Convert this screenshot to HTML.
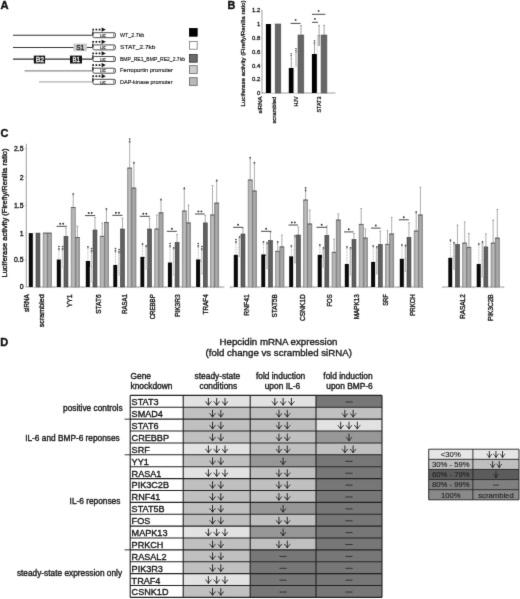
<!DOCTYPE html>
<html><head><meta charset="utf-8"><style>
html,body{margin:0;padding:0;background:#fff;}
body{width:520px;height:599px;overflow:hidden;}
svg{display:block;font-family:"Liberation Sans", sans-serif;}
</style></head><body>
<svg width="520" height="599" viewBox="0 0 520 599"><defs><filter id="soft" x="0" y="0" width="520" height="599" filterUnits="userSpaceOnUse" color-interpolation-filters="sRGB"><feConvolveMatrix order="3" kernelMatrix="0.00810 0.07380 0.00810 0.07380 0.67240 0.07380 0.00810 0.07380 0.00810" divisor="1" edgeMode="duplicate"/></filter></defs>
<rect width="520" height="599" fill="#fff"/>
<g filter="url(#soft)">
<text x="0.6" y="9.2" font-size="11.2" text-anchor="start" font-weight="bold" fill="#111" stroke="#111" stroke-width="0.38">A</text>
<line x1="13" y1="35.3" x2="92.6" y2="35.3" stroke="#333" stroke-width="1.1"/>
<rect x="92.9" y="32.699999999999996" width="22.5" height="5.0" rx="1.5" fill="#fff" stroke="#3a3a3a" stroke-width="0.9"/>
<ellipse cx="114.4" cy="35.199999999999996" rx="0.9" ry="1.9" fill="#fff" stroke="#3a3a3a" stroke-width="0.6"/>
<rect x="92.2" y="31.299999999999997" width="1.3" height="3.6" fill="#222"/>
<text x="103.1" y="36.9" font-size="4.2" text-anchor="middle" font-weight="normal" fill="#222" stroke="#222" stroke-width="0.25" textLength="5.6" lengthAdjust="spacingAndGlyphs">LUC</text>
<rect x="92.3" y="28.749999999999996" width="1.7" height="1.7" fill="#111"/>
<rect x="95.5" y="28.749999999999996" width="1.7" height="1.7" fill="#111"/>
<rect x="98.7" y="28.749999999999996" width="1.7" height="1.7" fill="#111"/>
<path d="M101.6 27.499999999999996 L105.8 29.599999999999998 L101.6 31.7 Z" fill="#111"/>
<text x="120" y="36.9" font-size="6.1" text-anchor="start" font-weight="normal" fill="#1a1a1a" stroke="#1a1a1a" stroke-width="0.16" textLength="24.3" lengthAdjust="spacingAndGlyphs">WT_2.7kb</text>
<line x1="13" y1="47.5" x2="92.6" y2="47.5" stroke="#333" stroke-width="1.1"/>
<rect x="92.9" y="44.9" width="22.5" height="5.0" rx="1.5" fill="#fff" stroke="#3a3a3a" stroke-width="0.9"/>
<ellipse cx="114.4" cy="47.4" rx="0.9" ry="1.9" fill="#fff" stroke="#3a3a3a" stroke-width="0.6"/>
<rect x="92.2" y="43.5" width="1.3" height="3.6" fill="#222"/>
<text x="103.1" y="49.1" font-size="4.2" text-anchor="middle" font-weight="normal" fill="#222" stroke="#222" stroke-width="0.25" textLength="5.6" lengthAdjust="spacingAndGlyphs">LUC</text>
<rect x="92.3" y="40.949999999999996" width="1.7" height="1.7" fill="#111"/>
<rect x="95.5" y="40.949999999999996" width="1.7" height="1.7" fill="#111"/>
<rect x="98.7" y="40.949999999999996" width="1.7" height="1.7" fill="#111"/>
<path d="M101.6 39.699999999999996 L105.8 41.8 L101.6 43.9 Z" fill="#111"/>
<text x="120" y="49.1" font-size="6.1" text-anchor="start" font-weight="normal" fill="#1a1a1a" stroke="#1a1a1a" stroke-width="0.16" textLength="35.5" lengthAdjust="spacingAndGlyphs">STAT_2.7kb</text>
<line x1="13" y1="59.1" x2="92.6" y2="59.1" stroke="#333" stroke-width="1.1"/>
<rect x="92.9" y="56.5" width="22.5" height="5.0" rx="1.5" fill="#fff" stroke="#3a3a3a" stroke-width="0.9"/>
<ellipse cx="114.4" cy="59.0" rx="0.9" ry="1.9" fill="#fff" stroke="#3a3a3a" stroke-width="0.6"/>
<rect x="92.2" y="55.1" width="1.3" height="3.6" fill="#222"/>
<text x="103.1" y="60.7" font-size="4.2" text-anchor="middle" font-weight="normal" fill="#222" stroke="#222" stroke-width="0.25" textLength="5.6" lengthAdjust="spacingAndGlyphs">LUC</text>
<rect x="92.3" y="52.55" width="1.7" height="1.7" fill="#111"/>
<rect x="95.5" y="52.55" width="1.7" height="1.7" fill="#111"/>
<rect x="98.7" y="52.55" width="1.7" height="1.7" fill="#111"/>
<path d="M101.6 51.3 L105.8 53.4 L101.6 55.5 Z" fill="#111"/>
<text x="120" y="60.7" font-size="6.1" text-anchor="start" font-weight="normal" fill="#1a1a1a" stroke="#1a1a1a" stroke-width="0.16" textLength="65" lengthAdjust="spacingAndGlyphs">BMP_RE1_BMP_RE2_2.7kb</text>
<line x1="24.6" y1="70.8" x2="92.6" y2="70.8" stroke="#8a8a8a" stroke-width="1.3"/>
<rect x="92.9" y="68.2" width="22.5" height="5.0" rx="1.5" fill="#fff" stroke="#3a3a3a" stroke-width="0.9"/>
<ellipse cx="114.4" cy="70.7" rx="0.9" ry="1.9" fill="#fff" stroke="#3a3a3a" stroke-width="0.6"/>
<rect x="92.2" y="66.8" width="1.3" height="3.6" fill="#222"/>
<text x="103.1" y="72.39999999999999" font-size="4.2" text-anchor="middle" font-weight="normal" fill="#222" stroke="#222" stroke-width="0.25" textLength="5.6" lengthAdjust="spacingAndGlyphs">LUC</text>
<rect x="92.3" y="64.25" width="1.7" height="1.7" fill="#111"/>
<rect x="95.5" y="64.25" width="1.7" height="1.7" fill="#111"/>
<rect x="98.7" y="64.25" width="1.7" height="1.7" fill="#111"/>
<path d="M101.6 62.99999999999999 L105.8 65.1 L101.6 67.19999999999999 Z" fill="#111"/>
<text x="120" y="72.39999999999999" font-size="6.1" text-anchor="start" font-weight="normal" fill="#1a1a1a" stroke="#1a1a1a" stroke-width="0.16" textLength="53" lengthAdjust="spacingAndGlyphs">Ferroportin promoter</text>
<line x1="39" y1="81.9" x2="92.6" y2="81.9" stroke="#b0b0b0" stroke-width="1.1"/>
<rect x="92.9" y="79.30000000000001" width="22.5" height="5.0" rx="1.5" fill="#fff" stroke="#3a3a3a" stroke-width="0.9"/>
<ellipse cx="114.4" cy="81.80000000000001" rx="0.9" ry="1.9" fill="#fff" stroke="#3a3a3a" stroke-width="0.6"/>
<rect x="92.2" y="77.9" width="1.3" height="3.6" fill="#222"/>
<text x="103.1" y="83.5" font-size="4.2" text-anchor="middle" font-weight="normal" fill="#222" stroke="#222" stroke-width="0.25" textLength="5.6" lengthAdjust="spacingAndGlyphs">LUC</text>
<rect x="92.3" y="75.35000000000001" width="1.7" height="1.7" fill="#111"/>
<rect x="95.5" y="75.35000000000001" width="1.7" height="1.7" fill="#111"/>
<rect x="98.7" y="75.35000000000001" width="1.7" height="1.7" fill="#111"/>
<path d="M101.6 74.10000000000001 L105.8 76.2 L101.6 78.3 Z" fill="#111"/>
<text x="120" y="83.5" font-size="6.1" text-anchor="start" font-weight="normal" fill="#1a1a1a" stroke="#1a1a1a" stroke-width="0.16" textLength="52.5" lengthAdjust="spacingAndGlyphs">DAP-kinase promoter</text>
<rect x="33.8" y="55.6" width="11.3" height="7.9" fill="#151515"/>
<text x="40.0" y="62.3" font-size="7.4" text-anchor="middle" font-weight="normal" fill="#eee" stroke="#eee" stroke-width="0.37" textLength="8.4" lengthAdjust="spacingAndGlyphs">B2</text>
<rect x="70" y="55.6" width="12" height="7.9" fill="#151515"/>
<text x="76.2" y="62.3" font-size="7.4" text-anchor="middle" font-weight="normal" fill="#eee" stroke="#eee" stroke-width="0.37" textLength="7.4" lengthAdjust="spacingAndGlyphs">B1</text>
<rect x="73.5" y="43.6" width="13.5" height="7.6" fill="#cbcbcb"/>
<text x="80.2" y="50.0" font-size="7.2" text-anchor="middle" font-weight="normal" fill="#222" stroke="#222" stroke-width="0.36" textLength="8" lengthAdjust="spacingAndGlyphs">S1</text>
<rect x="189.4" y="28.4" width="7.8" height="7.8" fill="#000" stroke="#000" stroke-width="0.8"/>
<rect x="189.4" y="41.4" width="7.8" height="7.8" fill="#fff" stroke="#777" stroke-width="0.8"/>
<rect x="189.4" y="54.4" width="7.8" height="7.8" fill="#6a6a6a" stroke="#333" stroke-width="0.8"/>
<rect x="189.4" y="65.7" width="7.8" height="7.8" fill="#cdcdcd" stroke="#666" stroke-width="0.8"/>
<rect x="189.4" y="77.7" width="7.8" height="7.8" fill="#b8b8b8" stroke="#666" stroke-width="0.8"/>
<text x="227.5" y="9.1" font-size="10.8" text-anchor="start" font-weight="bold" fill="#111" stroke="#111" stroke-width="0.38">B</text>
<line x1="262" y1="10.2" x2="262" y2="93.0" stroke="#888" stroke-width="0.8"/>
<line x1="262" y1="93.0" x2="335.6" y2="93.0" stroke="#888" stroke-width="0.8"/>
<text x="260.2" y="12.300000000000002" font-size="5.9" text-anchor="end" font-weight="normal" fill="#1a1a1a" stroke="#1a1a1a" stroke-width="0.30">1.2</text>
<line x1="261" y1="10.200000000000003" x2="262" y2="10.200000000000003" stroke="#888" stroke-width="0.6"/>
<text x="260.2" y="26.1" font-size="5.9" text-anchor="end" font-weight="normal" fill="#1a1a1a" stroke="#1a1a1a" stroke-width="0.30">1</text>
<line x1="261" y1="24.0" x2="262" y2="24.0" stroke="#888" stroke-width="0.6"/>
<text x="260.2" y="39.9" font-size="5.9" text-anchor="end" font-weight="normal" fill="#1a1a1a" stroke="#1a1a1a" stroke-width="0.30">0.8</text>
<line x1="261" y1="37.8" x2="262" y2="37.8" stroke="#888" stroke-width="0.6"/>
<text x="260.2" y="53.7" font-size="5.9" text-anchor="end" font-weight="normal" fill="#1a1a1a" stroke="#1a1a1a" stroke-width="0.30">0.6</text>
<line x1="261" y1="51.6" x2="262" y2="51.6" stroke="#888" stroke-width="0.6"/>
<text x="260.2" y="67.5" font-size="5.9" text-anchor="end" font-weight="normal" fill="#1a1a1a" stroke="#1a1a1a" stroke-width="0.30">0.4</text>
<line x1="261" y1="65.4" x2="262" y2="65.4" stroke="#888" stroke-width="0.6"/>
<text x="260.2" y="81.3" font-size="5.9" text-anchor="end" font-weight="normal" fill="#1a1a1a" stroke="#1a1a1a" stroke-width="0.30">0.2</text>
<line x1="261" y1="79.2" x2="262" y2="79.2" stroke="#888" stroke-width="0.6"/>
<text x="260.2" y="95.1" font-size="5.9" text-anchor="end" font-weight="normal" fill="#1a1a1a" stroke="#1a1a1a" stroke-width="0.30">0</text>
<line x1="261" y1="93.0" x2="262" y2="93.0" stroke="#888" stroke-width="0.6"/>
<text x="245.3" y="53.5" font-size="6.15" text-anchor="middle" font-weight="normal" fill="#1a1a1a" stroke="#1a1a1a" stroke-width="0.31" transform="rotate(-90 245.3 53.5)" textLength="106" lengthAdjust="spacingAndGlyphs">Luciferase activity (Firefly/Renilla ratio)</text>
<rect x="265.9" y="24.0" width="5.3" height="69.0" fill="#000"/>
<rect x="271.2" y="24.0" width="4.0" height="69.0" fill="#fff" stroke="#e0e0e0" stroke-width="0.6"/>
<rect x="275.2" y="24.0" width="5.6" height="69.0" fill="#666" stroke="#555" stroke-width="0.6"/>
<rect x="288.8" y="68.0" width="5.1" height="25.0" fill="#000"/>
<rect x="293.9" y="66.3" width="4.1" height="26.700000000000003" fill="#fff" stroke="#e0e0e0" stroke-width="0.6"/>
<rect x="298.0" y="35.0" width="5.8" height="58.0" fill="#666" stroke="#555" stroke-width="0.6"/>
<rect x="311.9" y="54.0" width="5.2" height="39.0" fill="#000"/>
<rect x="317.1" y="35.6" width="4.0" height="57.4" fill="#fff" stroke="#d0d0d0" stroke-width="0.6"/>
<rect x="321.1" y="35.0" width="5.8" height="58.0" fill="#666" stroke="#555" stroke-width="0.6"/>
<rect x="317.3" y="35.8" width="3.6" height="10" fill="#d0d0d0"/>
<line x1="301" y1="35.0" x2="301" y2="25.6" stroke="#666" stroke-width="0.6"/>
<line x1="300.1" y1="25.6" x2="301.9" y2="25.6" stroke="#666" stroke-width="0.6"/>
<line x1="319.1" y1="35.6" x2="319.1" y2="25.4" stroke="#666" stroke-width="0.6"/>
<line x1="318.20000000000005" y1="25.4" x2="320.0" y2="25.4" stroke="#666" stroke-width="0.6"/>
<line x1="324.1" y1="35.0" x2="324.1" y2="25.4" stroke="#666" stroke-width="0.6"/>
<line x1="323.20000000000005" y1="25.4" x2="325.0" y2="25.4" stroke="#666" stroke-width="0.6"/>
<line x1="291.3" y1="68" x2="291.3" y2="58" stroke="#666" stroke-width="0.6"/>
<line x1="290.40000000000003" y1="58" x2="292.2" y2="58" stroke="#666" stroke-width="0.6"/>
<line x1="296.0" y1="66.3" x2="296.0" y2="52" stroke="#666" stroke-width="0.6"/>
<line x1="295.1" y1="52" x2="296.9" y2="52" stroke="#666" stroke-width="0.6"/>
<line x1="314.5" y1="54" x2="314.5" y2="44" stroke="#666" stroke-width="0.6"/>
<line x1="313.6" y1="44" x2="315.4" y2="44" stroke="#666" stroke-width="0.6"/>
<line x1="319.1" y1="46" x2="319.1" y2="35.6" stroke="#666" stroke-width="0.6"/>
<line x1="318.20000000000005" y1="35.6" x2="320.0" y2="35.6" stroke="#666" stroke-width="0.6"/>
<line x1="290.6" y1="23.4" x2="300.6" y2="23.4" stroke="#333" stroke-width="0.9"/>
<text x="295.6" y="22.799999999999997" font-size="4.5" text-anchor="middle" font-weight="normal" fill="#333" stroke="#333" stroke-width="0.23">*</text>
<line x1="312" y1="22.3" x2="318" y2="22.3" stroke="#333" stroke-width="0.9"/>
<text x="315.0" y="21.7" font-size="4.5" text-anchor="middle" font-weight="normal" fill="#333" stroke="#333" stroke-width="0.23">*</text>
<line x1="312" y1="14.3" x2="325.4" y2="14.3" stroke="#333" stroke-width="0.9"/>
<text x="318.7" y="13.700000000000001" font-size="4.5" text-anchor="middle" font-weight="normal" fill="#333" stroke="#333" stroke-width="0.23">*</text>
<text x="291.3" y="58.0" font-size="3.8" text-anchor="middle" font-weight="normal" fill="#444" stroke="#444" stroke-width="0.19">*</text>
<text x="291.3" y="56.0" font-size="3.8" text-anchor="middle" font-weight="normal" fill="#444" stroke="#444" stroke-width="0.19">*</text>
<text x="296.0" y="52.5" font-size="3.8" text-anchor="middle" font-weight="normal" fill="#444" stroke="#444" stroke-width="0.19">*</text>
<text x="296.0" y="50.5" font-size="3.8" text-anchor="middle" font-weight="normal" fill="#444" stroke="#444" stroke-width="0.19">*</text>
<text x="314.5" y="44.5" font-size="3.8" text-anchor="middle" font-weight="normal" fill="#444" stroke="#444" stroke-width="0.19">*</text>
<text x="314.5" y="42.5" font-size="3.8" text-anchor="middle" font-weight="normal" fill="#444" stroke="#444" stroke-width="0.19">*</text>
<text x="262.5" y="96.6" font-size="6.0" text-anchor="end" font-weight="normal" fill="#1a1a1a" stroke="#1a1a1a" stroke-width="0.30" transform="rotate(-90 262.5 96.6)" textLength="16.8" lengthAdjust="spacingAndGlyphs">siRNA</text>
<text x="275.7" y="96.6" font-size="6.0" text-anchor="end" font-weight="normal" fill="#1a1a1a" stroke="#1a1a1a" stroke-width="0.30" transform="rotate(-90 275.7 96.6)" textLength="27" lengthAdjust="spacingAndGlyphs">scrambled</text>
<text x="298.0" y="96.6" font-size="6.0" text-anchor="end" font-weight="normal" fill="#1a1a1a" stroke="#1a1a1a" stroke-width="0.30" transform="rotate(-90 298.0 96.6)" textLength="9.8" lengthAdjust="spacingAndGlyphs">HJV</text>
<text x="321.4" y="96.6" font-size="6.0" text-anchor="end" font-weight="normal" fill="#1a1a1a" stroke="#1a1a1a" stroke-width="0.30" transform="rotate(-90 321.4 96.6)" textLength="16" lengthAdjust="spacingAndGlyphs">STAT3</text>
<text x="0.5" y="137.4" font-size="11.0" text-anchor="start" font-weight="bold" fill="#111" stroke="#111" stroke-width="0.38">C</text>
<line x1="26.3" y1="143.8" x2="26.3" y2="287.0" stroke="#888" stroke-width="0.8"/>
<text x="23.5" y="150.9" font-size="6.9" text-anchor="end" font-weight="normal" fill="#1a1a1a" stroke="#1a1a1a" stroke-width="0.35">2.5</text>
<line x1="25.3" y1="148.5" x2="26.3" y2="148.5" stroke="#888" stroke-width="0.6"/>
<text x="23.5" y="179.5" font-size="6.9" text-anchor="end" font-weight="normal" fill="#1a1a1a" stroke="#1a1a1a" stroke-width="0.35">2</text>
<line x1="25.3" y1="177.1" x2="26.3" y2="177.1" stroke="#888" stroke-width="0.6"/>
<text x="23.5" y="207.70000000000002" font-size="6.9" text-anchor="end" font-weight="normal" fill="#1a1a1a" stroke="#1a1a1a" stroke-width="0.35">1.5</text>
<line x1="25.3" y1="205.3" x2="26.3" y2="205.3" stroke="#888" stroke-width="0.6"/>
<text x="23.5" y="235.5" font-size="6.9" text-anchor="end" font-weight="normal" fill="#1a1a1a" stroke="#1a1a1a" stroke-width="0.35">1</text>
<line x1="25.3" y1="233.1" x2="26.3" y2="233.1" stroke="#888" stroke-width="0.6"/>
<text x="23.5" y="262.2" font-size="6.9" text-anchor="end" font-weight="normal" fill="#1a1a1a" stroke="#1a1a1a" stroke-width="0.35">0.5</text>
<line x1="25.3" y1="259.8" x2="26.3" y2="259.8" stroke="#888" stroke-width="0.6"/>
<text x="23.5" y="289.4" font-size="6.9" text-anchor="end" font-weight="normal" fill="#1a1a1a" stroke="#1a1a1a" stroke-width="0.35">0</text>
<line x1="25.3" y1="287.0" x2="26.3" y2="287.0" stroke="#888" stroke-width="0.6"/>
<text x="6.6" y="213.0" font-size="7.5" text-anchor="middle" font-weight="normal" fill="#1a1a1a" stroke="#1a1a1a" stroke-width="0.38" transform="rotate(-90 6.6 213.0)" textLength="129" lengthAdjust="spacingAndGlyphs">Luciferase activity (Firefly/Renilla ratio)</text>
<line x1="26.3" y1="287.0" x2="224.4" y2="287.0" stroke="#888" stroke-width="0.8"/>
<line x1="230.0" y1="287.0" x2="423.0" y2="287.0" stroke="#888" stroke-width="0.8"/>
<line x1="442.3" y1="287.0" x2="503.9" y2="287.0" stroke="#888" stroke-width="0.8"/>
<rect x="28.80" y="233.1" width="4.30" height="53.90" fill="#0a0a0a"/>
<rect x="33.10" y="233.1" width="2.90" height="53.90" fill="#ffffff" stroke="#e2e2e2" stroke-width="0.6"/>
<rect x="36.00" y="233.1" width="3.95" height="53.90" fill="#606060" stroke="#3e3e3e" stroke-width="0.6"/>
<rect x="43.10" y="233.1" width="4.20" height="53.90" fill="#aeaeae" stroke="#7a7a7a" stroke-width="0.6"/>
<line x1="45.20" y1="234.1" x2="45.20" y2="287.0" stroke="#c2c2c2" stroke-width="0.9"/>
<line x1="43.10" y1="233.1" x2="47.30" y2="233.1" stroke="#555" stroke-width="0.8"/>
<rect x="47.30" y="233.1" width="4.20" height="53.90" fill="#9e9e9e" stroke="#6e6e6e" stroke-width="0.6"/>
<line x1="49.40" y1="234.1" x2="49.40" y2="287.0" stroke="#b0b0b0" stroke-width="0.9"/>
<line x1="47.30" y1="233.1" x2="51.50" y2="233.1" stroke="#555" stroke-width="0.8"/>
<rect x="56.80" y="259.5" width="4.30" height="27.50" fill="#0a0a0a"/>
<rect x="61.10" y="258.5" width="2.90" height="28.50" fill="#ffffff" stroke="#e2e2e2" stroke-width="0.6"/>
<rect x="64.00" y="236.3" width="3.95" height="50.70" fill="#606060" stroke="#3e3e3e" stroke-width="0.6"/>
<rect x="71.10" y="207.5" width="4.20" height="79.50" fill="#aeaeae" stroke="#7a7a7a" stroke-width="0.6"/>
<line x1="73.20" y1="208.5" x2="73.20" y2="287.0" stroke="#c2c2c2" stroke-width="0.9"/>
<line x1="71.10" y1="207.5" x2="75.30" y2="207.5" stroke="#555" stroke-width="0.8"/>
<rect x="75.30" y="237.5" width="4.20" height="49.50" fill="#9e9e9e" stroke="#6e6e6e" stroke-width="0.6"/>
<line x1="77.40" y1="238.5" x2="77.40" y2="287.0" stroke="#b0b0b0" stroke-width="0.9"/>
<line x1="75.30" y1="237.5" x2="79.50" y2="237.5" stroke="#555" stroke-width="0.8"/>
<line x1="58.95" y1="259.5" x2="58.95" y2="250" stroke="#8a8a8a" stroke-width="0.55" stroke-dasharray="1 0.6"/>
<line x1="58.05" y1="250" x2="59.85" y2="250" stroke="#6a6a6a" stroke-width="0.55"/>
<circle cx="58.95" cy="248.80" r="0.85" fill="#444"/>
<circle cx="58.95" cy="246.50" r="0.85" fill="#444"/>
<rect x="61.50" y="250.00" width="2.10" height="17.00" fill="#ececec"/>
<line x1="62.55" y1="258.5" x2="62.55" y2="250" stroke="#8a8a8a" stroke-width="0.55" stroke-dasharray="1 0.6"/>
<line x1="61.65" y1="250" x2="63.45" y2="250" stroke="#6a6a6a" stroke-width="0.55"/>
<line x1="62.55" y1="258.5" x2="62.55" y2="267.00" stroke="#999" stroke-width="0.55" stroke-dasharray="1 0.6"/>
<line x1="61.65" y1="267.00" x2="63.45" y2="267.00" stroke="#999" stroke-width="0.5"/>
<circle cx="62.55" cy="248.80" r="0.85" fill="#444"/>
<circle cx="62.55" cy="246.50" r="0.85" fill="#444"/>
<line x1="65.97" y1="236.3" x2="65.97" y2="228" stroke="#6a6a6a" stroke-width="0.55"/>
<line x1="65.07" y1="228" x2="66.88" y2="228" stroke="#6a6a6a" stroke-width="0.55"/>
<line x1="73.20" y1="207.5" x2="73.20" y2="195" stroke="#6a6a6a" stroke-width="0.55"/>
<line x1="72.30" y1="195" x2="74.10" y2="195" stroke="#6a6a6a" stroke-width="0.55"/>
<circle cx="73.20" cy="193.80" r="0.85" fill="#444"/>
<line x1="77.40" y1="237.5" x2="77.40" y2="226" stroke="#6a6a6a" stroke-width="0.55"/>
<line x1="76.50" y1="226" x2="78.30" y2="226" stroke="#6a6a6a" stroke-width="0.55"/>
<line x1="56.5" y1="226.3" x2="66.9" y2="226.3" stroke="#333" stroke-width="0.9"/>
<circle cx="60.20" cy="223.70" r="0.95" fill="#333"/>
<circle cx="63.20" cy="223.70" r="0.95" fill="#333"/>
<rect x="85.80" y="261" width="4.30" height="26.00" fill="#0a0a0a"/>
<rect x="90.10" y="267" width="2.90" height="20.00" fill="#ffffff" stroke="#e2e2e2" stroke-width="0.6"/>
<rect x="93.00" y="230" width="3.95" height="57.00" fill="#606060" stroke="#3e3e3e" stroke-width="0.6"/>
<rect x="100.10" y="236.3" width="4.20" height="50.70" fill="#aeaeae" stroke="#7a7a7a" stroke-width="0.6"/>
<line x1="102.20" y1="237.3" x2="102.20" y2="287.0" stroke="#c2c2c2" stroke-width="0.9"/>
<line x1="100.10" y1="236.3" x2="104.30" y2="236.3" stroke="#555" stroke-width="0.8"/>
<rect x="104.30" y="222.5" width="4.20" height="64.50" fill="#9e9e9e" stroke="#6e6e6e" stroke-width="0.6"/>
<line x1="106.40" y1="223.5" x2="106.40" y2="287.0" stroke="#b0b0b0" stroke-width="0.9"/>
<line x1="104.30" y1="222.5" x2="108.50" y2="222.5" stroke="#555" stroke-width="0.8"/>
<line x1="87.95" y1="261" x2="87.95" y2="248" stroke="#8a8a8a" stroke-width="0.55" stroke-dasharray="1 0.6"/>
<line x1="87.05" y1="248" x2="88.85" y2="248" stroke="#6a6a6a" stroke-width="0.55"/>
<circle cx="87.95" cy="246.80" r="0.85" fill="#444"/>
<rect x="90.50" y="252.00" width="2.10" height="30.00" fill="#ececec"/>
<line x1="91.55" y1="267" x2="91.55" y2="252" stroke="#8a8a8a" stroke-width="0.55" stroke-dasharray="1 0.6"/>
<line x1="90.65" y1="252" x2="92.45" y2="252" stroke="#6a6a6a" stroke-width="0.55"/>
<line x1="91.55" y1="267" x2="91.55" y2="282.00" stroke="#999" stroke-width="0.55" stroke-dasharray="1 0.6"/>
<line x1="90.65" y1="282.00" x2="92.45" y2="282.00" stroke="#999" stroke-width="0.5"/>
<circle cx="91.55" cy="250.80" r="0.85" fill="#444"/>
<circle cx="91.55" cy="248.50" r="0.85" fill="#444"/>
<line x1="94.97" y1="230" x2="94.97" y2="217.5" stroke="#6a6a6a" stroke-width="0.55"/>
<line x1="94.07" y1="217.5" x2="95.88" y2="217.5" stroke="#6a6a6a" stroke-width="0.55"/>
<line x1="102.20" y1="236.3" x2="102.20" y2="223" stroke="#6a6a6a" stroke-width="0.55"/>
<line x1="101.30" y1="223" x2="103.10" y2="223" stroke="#6a6a6a" stroke-width="0.55"/>
<line x1="106.40" y1="222.5" x2="106.40" y2="210" stroke="#6a6a6a" stroke-width="0.55"/>
<line x1="105.50" y1="210" x2="107.30" y2="210" stroke="#6a6a6a" stroke-width="0.55"/>
<circle cx="106.40" cy="208.80" r="0.85" fill="#444"/>
<line x1="85" y1="215.6" x2="95.3" y2="215.6" stroke="#333" stroke-width="0.9"/>
<circle cx="88.65" cy="213.00" r="0.95" fill="#333"/>
<circle cx="91.65" cy="213.00" r="0.95" fill="#333"/>
<rect x="113.30" y="265" width="4.30" height="22.00" fill="#0a0a0a"/>
<rect x="117.60" y="264" width="2.90" height="23.00" fill="#ffffff" stroke="#e2e2e2" stroke-width="0.6"/>
<rect x="120.50" y="229" width="3.95" height="58.00" fill="#606060" stroke="#3e3e3e" stroke-width="0.6"/>
<rect x="127.60" y="168.1" width="4.20" height="118.90" fill="#aeaeae" stroke="#7a7a7a" stroke-width="0.6"/>
<line x1="129.70" y1="169.1" x2="129.70" y2="287.0" stroke="#c2c2c2" stroke-width="0.9"/>
<line x1="127.60" y1="168.1" x2="131.80" y2="168.1" stroke="#555" stroke-width="0.8"/>
<rect x="131.80" y="188.1" width="4.20" height="98.90" fill="#9e9e9e" stroke="#6e6e6e" stroke-width="0.6"/>
<line x1="133.90" y1="189.1" x2="133.90" y2="287.0" stroke="#b0b0b0" stroke-width="0.9"/>
<line x1="131.80" y1="188.1" x2="136.00" y2="188.1" stroke="#555" stroke-width="0.8"/>
<line x1="115.45" y1="265" x2="115.45" y2="252" stroke="#8a8a8a" stroke-width="0.55" stroke-dasharray="1 0.6"/>
<line x1="114.55" y1="252" x2="116.35" y2="252" stroke="#6a6a6a" stroke-width="0.55"/>
<circle cx="115.45" cy="250.80" r="0.85" fill="#444"/>
<circle cx="115.45" cy="248.50" r="0.85" fill="#444"/>
<rect x="118.00" y="253.00" width="2.10" height="22.00" fill="#ececec"/>
<line x1="119.05" y1="264" x2="119.05" y2="253" stroke="#8a8a8a" stroke-width="0.55" stroke-dasharray="1 0.6"/>
<line x1="118.15" y1="253" x2="119.95" y2="253" stroke="#6a6a6a" stroke-width="0.55"/>
<line x1="119.05" y1="264" x2="119.05" y2="275.00" stroke="#999" stroke-width="0.55" stroke-dasharray="1 0.6"/>
<line x1="118.15" y1="275.00" x2="119.95" y2="275.00" stroke="#999" stroke-width="0.5"/>
<circle cx="119.05" cy="251.80" r="0.85" fill="#444"/>
<circle cx="119.05" cy="249.50" r="0.85" fill="#444"/>
<line x1="122.47" y1="229" x2="122.47" y2="218" stroke="#6a6a6a" stroke-width="0.55"/>
<line x1="121.57" y1="218" x2="123.38" y2="218" stroke="#6a6a6a" stroke-width="0.55"/>
<line x1="129.70" y1="168.1" x2="129.70" y2="142.5" stroke="#6a6a6a" stroke-width="0.55"/>
<line x1="128.80" y1="142.5" x2="130.60" y2="142.5" stroke="#6a6a6a" stroke-width="0.55"/>
<circle cx="129.70" cy="141.30" r="0.85" fill="#444"/>
<circle cx="129.70" cy="139.00" r="0.85" fill="#444"/>
<line x1="133.90" y1="188.1" x2="133.90" y2="163.8" stroke="#6a6a6a" stroke-width="0.55"/>
<line x1="133.00" y1="163.8" x2="134.80" y2="163.8" stroke="#6a6a6a" stroke-width="0.55"/>
<circle cx="133.90" cy="162.60" r="0.85" fill="#444"/>
<line x1="112.3" y1="215.3" x2="122.5" y2="215.3" stroke="#333" stroke-width="0.9"/>
<circle cx="115.90" cy="212.70" r="0.95" fill="#333"/>
<circle cx="118.90" cy="212.70" r="0.95" fill="#333"/>
<rect x="140.40" y="256.9" width="4.30" height="30.10" fill="#0a0a0a"/>
<rect x="144.70" y="258" width="2.90" height="29.00" fill="#ffffff" stroke="#e2e2e2" stroke-width="0.6"/>
<rect x="147.60" y="229" width="3.95" height="58.00" fill="#606060" stroke="#3e3e3e" stroke-width="0.6"/>
<rect x="154.70" y="229" width="4.20" height="58.00" fill="#aeaeae" stroke="#7a7a7a" stroke-width="0.6"/>
<line x1="156.80" y1="230" x2="156.80" y2="287.0" stroke="#c2c2c2" stroke-width="0.9"/>
<line x1="154.70" y1="229" x2="158.90" y2="229" stroke="#555" stroke-width="0.8"/>
<rect x="158.90" y="212.8" width="4.20" height="74.20" fill="#9e9e9e" stroke="#6e6e6e" stroke-width="0.6"/>
<line x1="161.00" y1="213.8" x2="161.00" y2="287.0" stroke="#b0b0b0" stroke-width="0.9"/>
<line x1="158.90" y1="212.8" x2="163.10" y2="212.8" stroke="#555" stroke-width="0.8"/>
<line x1="142.55" y1="256.9" x2="142.55" y2="245" stroke="#8a8a8a" stroke-width="0.55" stroke-dasharray="1 0.6"/>
<line x1="141.65" y1="245" x2="143.45" y2="245" stroke="#6a6a6a" stroke-width="0.55"/>
<circle cx="142.55" cy="243.80" r="0.85" fill="#444"/>
<rect x="145.10" y="247.00" width="2.10" height="22.00" fill="#ececec"/>
<line x1="146.15" y1="258" x2="146.15" y2="247" stroke="#8a8a8a" stroke-width="0.55" stroke-dasharray="1 0.6"/>
<line x1="145.25" y1="247" x2="147.05" y2="247" stroke="#6a6a6a" stroke-width="0.55"/>
<line x1="146.15" y1="258" x2="146.15" y2="269.00" stroke="#999" stroke-width="0.55" stroke-dasharray="1 0.6"/>
<line x1="145.25" y1="269.00" x2="147.05" y2="269.00" stroke="#999" stroke-width="0.5"/>
<circle cx="146.15" cy="245.80" r="0.85" fill="#444"/>
<line x1="149.57" y1="229" x2="149.57" y2="218" stroke="#6a6a6a" stroke-width="0.55"/>
<line x1="148.67" y1="218" x2="150.47" y2="218" stroke="#6a6a6a" stroke-width="0.55"/>
<line x1="156.80" y1="229" x2="156.80" y2="215" stroke="#6a6a6a" stroke-width="0.55"/>
<line x1="155.90" y1="215" x2="157.70" y2="215" stroke="#6a6a6a" stroke-width="0.55"/>
<line x1="161.00" y1="212.8" x2="161.00" y2="200.5" stroke="#6a6a6a" stroke-width="0.55"/>
<line x1="160.10" y1="200.5" x2="161.90" y2="200.5" stroke="#6a6a6a" stroke-width="0.55"/>
<circle cx="161.00" cy="199.30" r="0.85" fill="#444"/>
<line x1="139.8" y1="216.3" x2="149.8" y2="216.3" stroke="#333" stroke-width="0.9"/>
<circle cx="143.30" cy="213.70" r="0.95" fill="#333"/>
<circle cx="146.30" cy="213.70" r="0.95" fill="#333"/>
<rect x="167.90" y="262.5" width="4.30" height="24.50" fill="#0a0a0a"/>
<rect x="172.20" y="262" width="2.90" height="25.00" fill="#ffffff" stroke="#e2e2e2" stroke-width="0.6"/>
<rect x="175.10" y="242.3" width="3.95" height="44.70" fill="#606060" stroke="#3e3e3e" stroke-width="0.6"/>
<rect x="182.20" y="211" width="4.20" height="76.00" fill="#aeaeae" stroke="#7a7a7a" stroke-width="0.6"/>
<line x1="184.30" y1="212" x2="184.30" y2="287.0" stroke="#c2c2c2" stroke-width="0.9"/>
<line x1="182.20" y1="211" x2="186.40" y2="211" stroke="#555" stroke-width="0.8"/>
<rect x="186.40" y="222.9" width="4.20" height="64.10" fill="#9e9e9e" stroke="#6e6e6e" stroke-width="0.6"/>
<line x1="188.50" y1="223.9" x2="188.50" y2="287.0" stroke="#b0b0b0" stroke-width="0.9"/>
<line x1="186.40" y1="222.9" x2="190.60" y2="222.9" stroke="#555" stroke-width="0.8"/>
<line x1="170.05" y1="262.5" x2="170.05" y2="247" stroke="#8a8a8a" stroke-width="0.55" stroke-dasharray="1 0.6"/>
<line x1="169.15" y1="247" x2="170.95" y2="247" stroke="#6a6a6a" stroke-width="0.55"/>
<circle cx="170.05" cy="245.80" r="0.85" fill="#444"/>
<circle cx="170.05" cy="243.50" r="0.85" fill="#444"/>
<rect x="172.60" y="249.00" width="2.10" height="26.00" fill="#ececec"/>
<line x1="173.65" y1="262" x2="173.65" y2="249" stroke="#8a8a8a" stroke-width="0.55" stroke-dasharray="1 0.6"/>
<line x1="172.75" y1="249" x2="174.55" y2="249" stroke="#6a6a6a" stroke-width="0.55"/>
<line x1="173.65" y1="262" x2="173.65" y2="275.00" stroke="#999" stroke-width="0.55" stroke-dasharray="1 0.6"/>
<line x1="172.75" y1="275.00" x2="174.55" y2="275.00" stroke="#999" stroke-width="0.5"/>
<circle cx="173.65" cy="247.80" r="0.85" fill="#444"/>
<line x1="177.07" y1="242.3" x2="177.07" y2="234.5" stroke="#6a6a6a" stroke-width="0.55"/>
<line x1="176.17" y1="234.5" x2="177.97" y2="234.5" stroke="#6a6a6a" stroke-width="0.55"/>
<line x1="184.30" y1="211" x2="184.30" y2="189.4" stroke="#6a6a6a" stroke-width="0.55"/>
<line x1="183.40" y1="189.4" x2="185.20" y2="189.4" stroke="#6a6a6a" stroke-width="0.55"/>
<circle cx="184.30" cy="188.20" r="0.85" fill="#444"/>
<line x1="188.50" y1="222.9" x2="188.50" y2="205" stroke="#6a6a6a" stroke-width="0.55"/>
<line x1="187.60" y1="205" x2="189.40" y2="205" stroke="#6a6a6a" stroke-width="0.55"/>
<line x1="166.9" y1="231.3" x2="176.9" y2="231.3" stroke="#333" stroke-width="0.9"/>
<circle cx="171.90" cy="228.70" r="0.95" fill="#333"/>
<rect x="196.10" y="259.4" width="4.30" height="27.60" fill="#0a0a0a"/>
<rect x="200.40" y="262" width="2.90" height="25.00" fill="#ffffff" stroke="#e2e2e2" stroke-width="0.6"/>
<rect x="203.30" y="222.9" width="3.95" height="64.10" fill="#606060" stroke="#3e3e3e" stroke-width="0.6"/>
<rect x="210.40" y="215" width="4.20" height="72.00" fill="#aeaeae" stroke="#7a7a7a" stroke-width="0.6"/>
<line x1="212.50" y1="216" x2="212.50" y2="287.0" stroke="#c2c2c2" stroke-width="0.9"/>
<line x1="210.40" y1="215" x2="214.60" y2="215" stroke="#555" stroke-width="0.8"/>
<rect x="214.60" y="203.1" width="4.20" height="83.90" fill="#9e9e9e" stroke="#6e6e6e" stroke-width="0.6"/>
<line x1="216.70" y1="204.1" x2="216.70" y2="287.0" stroke="#b0b0b0" stroke-width="0.9"/>
<line x1="214.60" y1="203.1" x2="218.80" y2="203.1" stroke="#555" stroke-width="0.8"/>
<line x1="198.25" y1="259.4" x2="198.25" y2="247" stroke="#8a8a8a" stroke-width="0.55" stroke-dasharray="1 0.6"/>
<line x1="197.35" y1="247" x2="199.15" y2="247" stroke="#6a6a6a" stroke-width="0.55"/>
<circle cx="198.25" cy="245.80" r="0.85" fill="#444"/>
<circle cx="198.25" cy="243.50" r="0.85" fill="#444"/>
<rect x="200.80" y="250.00" width="2.10" height="24.00" fill="#ececec"/>
<line x1="201.85" y1="262" x2="201.85" y2="250" stroke="#8a8a8a" stroke-width="0.55" stroke-dasharray="1 0.6"/>
<line x1="200.95" y1="250" x2="202.75" y2="250" stroke="#6a6a6a" stroke-width="0.55"/>
<line x1="201.85" y1="262" x2="201.85" y2="274.00" stroke="#999" stroke-width="0.55" stroke-dasharray="1 0.6"/>
<line x1="200.95" y1="274.00" x2="202.75" y2="274.00" stroke="#999" stroke-width="0.5"/>
<circle cx="201.85" cy="248.80" r="0.85" fill="#444"/>
<circle cx="201.85" cy="246.50" r="0.85" fill="#444"/>
<line x1="205.28" y1="222.9" x2="205.28" y2="215.5" stroke="#6a6a6a" stroke-width="0.55"/>
<line x1="204.38" y1="215.5" x2="206.18" y2="215.5" stroke="#6a6a6a" stroke-width="0.55"/>
<line x1="212.50" y1="215" x2="212.50" y2="185.5" stroke="#6a6a6a" stroke-width="0.55"/>
<line x1="211.60" y1="185.5" x2="213.40" y2="185.5" stroke="#6a6a6a" stroke-width="0.55"/>
<line x1="216.70" y1="203.1" x2="216.70" y2="181.5" stroke="#6a6a6a" stroke-width="0.55"/>
<line x1="215.80" y1="181.5" x2="217.60" y2="181.5" stroke="#6a6a6a" stroke-width="0.55"/>
<circle cx="216.70" cy="180.30" r="0.85" fill="#444"/>
<line x1="195" y1="214" x2="204.8" y2="214" stroke="#333" stroke-width="0.9"/>
<circle cx="198.40" cy="211.40" r="0.95" fill="#333"/>
<circle cx="201.40" cy="211.40" r="0.95" fill="#333"/>
<rect x="233.80" y="254.8" width="4.30" height="32.20" fill="#0a0a0a"/>
<rect x="238.10" y="247.3" width="2.90" height="39.70" fill="#ffffff" stroke="#e2e2e2" stroke-width="0.6"/>
<rect x="241.00" y="234" width="3.95" height="53.00" fill="#606060" stroke="#3e3e3e" stroke-width="0.6"/>
<rect x="248.10" y="180" width="4.20" height="107.00" fill="#aeaeae" stroke="#7a7a7a" stroke-width="0.6"/>
<line x1="250.20" y1="181" x2="250.20" y2="287.0" stroke="#c2c2c2" stroke-width="0.9"/>
<line x1="248.10" y1="180" x2="252.30" y2="180" stroke="#555" stroke-width="0.8"/>
<rect x="252.30" y="191" width="4.20" height="96.00" fill="#9e9e9e" stroke="#6e6e6e" stroke-width="0.6"/>
<line x1="254.40" y1="192" x2="254.40" y2="287.0" stroke="#b0b0b0" stroke-width="0.9"/>
<line x1="252.30" y1="191" x2="256.50" y2="191" stroke="#555" stroke-width="0.8"/>
<line x1="235.95" y1="254.8" x2="235.95" y2="243" stroke="#8a8a8a" stroke-width="0.55" stroke-dasharray="1 0.6"/>
<line x1="235.05" y1="243" x2="236.85" y2="243" stroke="#6a6a6a" stroke-width="0.55"/>
<circle cx="235.95" cy="241.80" r="0.85" fill="#444"/>
<circle cx="235.95" cy="239.50" r="0.85" fill="#444"/>
<rect x="238.50" y="238.00" width="2.10" height="18.60" fill="#d6d6d6"/>
<line x1="239.55" y1="247.3" x2="239.55" y2="238" stroke="#8a8a8a" stroke-width="0.55" stroke-dasharray="1 0.6"/>
<line x1="238.65" y1="238" x2="240.45" y2="238" stroke="#6a6a6a" stroke-width="0.55"/>
<line x1="239.55" y1="247.3" x2="239.55" y2="256.60" stroke="#999" stroke-width="0.55" stroke-dasharray="1 0.6"/>
<line x1="238.65" y1="256.60" x2="240.45" y2="256.60" stroke="#999" stroke-width="0.5"/>
<circle cx="239.55" cy="236.80" r="0.85" fill="#444"/>
<line x1="242.97" y1="234" x2="242.97" y2="228" stroke="#6a6a6a" stroke-width="0.55"/>
<line x1="242.07" y1="228" x2="243.88" y2="228" stroke="#6a6a6a" stroke-width="0.55"/>
<line x1="250.20" y1="180" x2="250.20" y2="158.8" stroke="#6a6a6a" stroke-width="0.55"/>
<line x1="249.30" y1="158.8" x2="251.10" y2="158.8" stroke="#6a6a6a" stroke-width="0.55"/>
<circle cx="250.20" cy="157.60" r="0.85" fill="#444"/>
<line x1="254.40" y1="191" x2="254.40" y2="163.8" stroke="#6a6a6a" stroke-width="0.55"/>
<line x1="253.50" y1="163.8" x2="255.30" y2="163.8" stroke="#6a6a6a" stroke-width="0.55"/>
<circle cx="254.40" cy="162.60" r="0.85" fill="#444"/>
<line x1="233.1" y1="227.3" x2="243.1" y2="227.3" stroke="#333" stroke-width="0.9"/>
<circle cx="238.10" cy="224.70" r="0.95" fill="#333"/>
<rect x="261.30" y="254.4" width="4.30" height="32.60" fill="#0a0a0a"/>
<rect x="265.60" y="256.3" width="2.90" height="30.70" fill="#ffffff" stroke="#e2e2e2" stroke-width="0.6"/>
<rect x="268.50" y="240.5" width="3.95" height="46.50" fill="#606060" stroke="#3e3e3e" stroke-width="0.6"/>
<rect x="275.60" y="251.3" width="4.20" height="35.70" fill="#aeaeae" stroke="#7a7a7a" stroke-width="0.6"/>
<line x1="277.70" y1="252.3" x2="277.70" y2="287.0" stroke="#c2c2c2" stroke-width="0.9"/>
<line x1="275.60" y1="251.3" x2="279.80" y2="251.3" stroke="#555" stroke-width="0.8"/>
<rect x="279.80" y="246.9" width="4.20" height="40.10" fill="#9e9e9e" stroke="#6e6e6e" stroke-width="0.6"/>
<line x1="281.90" y1="247.9" x2="281.90" y2="287.0" stroke="#b0b0b0" stroke-width="0.9"/>
<line x1="279.80" y1="246.9" x2="284.00" y2="246.9" stroke="#555" stroke-width="0.8"/>
<line x1="263.45" y1="254.4" x2="263.45" y2="243" stroke="#8a8a8a" stroke-width="0.55" stroke-dasharray="1 0.6"/>
<line x1="262.55" y1="243" x2="264.35" y2="243" stroke="#6a6a6a" stroke-width="0.55"/>
<circle cx="263.45" cy="241.80" r="0.85" fill="#444"/>
<rect x="266.00" y="244.00" width="2.10" height="24.60" fill="#d6d6d6"/>
<line x1="267.05" y1="256.3" x2="267.05" y2="244" stroke="#8a8a8a" stroke-width="0.55" stroke-dasharray="1 0.6"/>
<line x1="266.15" y1="244" x2="267.95" y2="244" stroke="#6a6a6a" stroke-width="0.55"/>
<line x1="267.05" y1="256.3" x2="267.05" y2="268.60" stroke="#999" stroke-width="0.55" stroke-dasharray="1 0.6"/>
<line x1="266.15" y1="268.60" x2="267.95" y2="268.60" stroke="#999" stroke-width="0.5"/>
<circle cx="267.05" cy="242.80" r="0.85" fill="#444"/>
<line x1="270.48" y1="240.5" x2="270.48" y2="232" stroke="#6a6a6a" stroke-width="0.55"/>
<line x1="269.58" y1="232" x2="271.38" y2="232" stroke="#6a6a6a" stroke-width="0.55"/>
<line x1="277.70" y1="251.3" x2="277.70" y2="243" stroke="#6a6a6a" stroke-width="0.55"/>
<line x1="276.80" y1="243" x2="278.60" y2="243" stroke="#6a6a6a" stroke-width="0.55"/>
<circle cx="277.70" cy="241.80" r="0.85" fill="#444"/>
<line x1="281.90" y1="246.9" x2="281.90" y2="235" stroke="#6a6a6a" stroke-width="0.55"/>
<line x1="281.00" y1="235" x2="282.80" y2="235" stroke="#6a6a6a" stroke-width="0.55"/>
<line x1="261" y1="231.3" x2="271.3" y2="231.3" stroke="#333" stroke-width="0.9"/>
<circle cx="266.15" cy="228.70" r="0.95" fill="#333"/>
<rect x="289.20" y="256.3" width="4.30" height="30.70" fill="#0a0a0a"/>
<rect x="293.50" y="250" width="2.90" height="37.00" fill="#ffffff" stroke="#e2e2e2" stroke-width="0.6"/>
<rect x="296.40" y="235" width="3.95" height="52.00" fill="#606060" stroke="#3e3e3e" stroke-width="0.6"/>
<rect x="303.50" y="200" width="4.20" height="87.00" fill="#aeaeae" stroke="#7a7a7a" stroke-width="0.6"/>
<line x1="305.60" y1="201" x2="305.60" y2="287.0" stroke="#c2c2c2" stroke-width="0.9"/>
<line x1="303.50" y1="200" x2="307.70" y2="200" stroke="#555" stroke-width="0.8"/>
<rect x="307.70" y="224" width="4.20" height="63.00" fill="#9e9e9e" stroke="#6e6e6e" stroke-width="0.6"/>
<line x1="309.80" y1="225" x2="309.80" y2="287.0" stroke="#b0b0b0" stroke-width="0.9"/>
<line x1="307.70" y1="224" x2="311.90" y2="224" stroke="#555" stroke-width="0.8"/>
<line x1="291.35" y1="256.3" x2="291.35" y2="247" stroke="#8a8a8a" stroke-width="0.55" stroke-dasharray="1 0.6"/>
<line x1="290.45" y1="247" x2="292.25" y2="247" stroke="#6a6a6a" stroke-width="0.55"/>
<circle cx="291.35" cy="245.80" r="0.85" fill="#444"/>
<rect x="293.90" y="237.00" width="2.10" height="26.00" fill="#d6d6d6"/>
<line x1="294.95" y1="250" x2="294.95" y2="237" stroke="#8a8a8a" stroke-width="0.55" stroke-dasharray="1 0.6"/>
<line x1="294.05" y1="237" x2="295.85" y2="237" stroke="#6a6a6a" stroke-width="0.55"/>
<line x1="294.95" y1="250" x2="294.95" y2="263.00" stroke="#999" stroke-width="0.55" stroke-dasharray="1 0.6"/>
<line x1="294.05" y1="263.00" x2="295.85" y2="263.00" stroke="#999" stroke-width="0.5"/>
<circle cx="294.95" cy="235.80" r="0.85" fill="#444"/>
<line x1="298.38" y1="235" x2="298.38" y2="227" stroke="#6a6a6a" stroke-width="0.55"/>
<line x1="297.48" y1="227" x2="299.27" y2="227" stroke="#6a6a6a" stroke-width="0.55"/>
<line x1="305.60" y1="200" x2="305.60" y2="191.3" stroke="#6a6a6a" stroke-width="0.55"/>
<line x1="304.70" y1="191.3" x2="306.50" y2="191.3" stroke="#6a6a6a" stroke-width="0.55"/>
<circle cx="305.60" cy="190.10" r="0.85" fill="#444"/>
<circle cx="305.60" cy="187.80" r="0.85" fill="#444"/>
<line x1="309.80" y1="224" x2="309.80" y2="210" stroke="#6a6a6a" stroke-width="0.55"/>
<line x1="308.90" y1="210" x2="310.70" y2="210" stroke="#6a6a6a" stroke-width="0.55"/>
<line x1="288.5" y1="225" x2="298.1" y2="225" stroke="#333" stroke-width="0.9"/>
<circle cx="291.80" cy="222.40" r="0.95" fill="#333"/>
<circle cx="294.80" cy="222.40" r="0.95" fill="#333"/>
<rect x="317.70" y="254.8" width="4.30" height="32.20" fill="#0a0a0a"/>
<rect x="322.00" y="258" width="2.90" height="29.00" fill="#ffffff" stroke="#e2e2e2" stroke-width="0.6"/>
<rect x="324.90" y="235.3" width="3.95" height="51.70" fill="#606060" stroke="#3e3e3e" stroke-width="0.6"/>
<rect x="332.00" y="252.3" width="4.20" height="34.70" fill="#aeaeae" stroke="#7a7a7a" stroke-width="0.6"/>
<line x1="334.10" y1="253.3" x2="334.10" y2="287.0" stroke="#c2c2c2" stroke-width="0.9"/>
<line x1="332.00" y1="252.3" x2="336.20" y2="252.3" stroke="#555" stroke-width="0.8"/>
<rect x="336.20" y="220" width="4.20" height="67.00" fill="#9e9e9e" stroke="#6e6e6e" stroke-width="0.6"/>
<line x1="338.30" y1="221" x2="338.30" y2="287.0" stroke="#b0b0b0" stroke-width="0.9"/>
<line x1="336.20" y1="220" x2="340.40" y2="220" stroke="#555" stroke-width="0.8"/>
<line x1="319.85" y1="254.8" x2="319.85" y2="246" stroke="#8a8a8a" stroke-width="0.55" stroke-dasharray="1 0.6"/>
<line x1="318.95" y1="246" x2="320.75" y2="246" stroke="#6a6a6a" stroke-width="0.55"/>
<circle cx="319.85" cy="244.80" r="0.85" fill="#444"/>
<rect x="322.40" y="249.00" width="2.10" height="18.00" fill="#d6d6d6"/>
<line x1="323.45" y1="258" x2="323.45" y2="249" stroke="#8a8a8a" stroke-width="0.55" stroke-dasharray="1 0.6"/>
<line x1="322.55" y1="249" x2="324.35" y2="249" stroke="#6a6a6a" stroke-width="0.55"/>
<line x1="323.45" y1="258" x2="323.45" y2="267.00" stroke="#999" stroke-width="0.55" stroke-dasharray="1 0.6"/>
<line x1="322.55" y1="267.00" x2="324.35" y2="267.00" stroke="#999" stroke-width="0.5"/>
<circle cx="323.45" cy="247.80" r="0.85" fill="#444"/>
<line x1="326.88" y1="235.3" x2="326.88" y2="226" stroke="#6a6a6a" stroke-width="0.55"/>
<line x1="325.98" y1="226" x2="327.77" y2="226" stroke="#6a6a6a" stroke-width="0.55"/>
<line x1="334.10" y1="252.3" x2="334.10" y2="239" stroke="#6a6a6a" stroke-width="0.55"/>
<line x1="333.20" y1="239" x2="335.00" y2="239" stroke="#6a6a6a" stroke-width="0.55"/>
<line x1="338.30" y1="220" x2="338.30" y2="213.8" stroke="#6a6a6a" stroke-width="0.55"/>
<line x1="337.40" y1="213.8" x2="339.20" y2="213.8" stroke="#6a6a6a" stroke-width="0.55"/>
<line x1="316.5" y1="227.3" x2="326.9" y2="227.3" stroke="#333" stroke-width="0.9"/>
<circle cx="321.70" cy="224.70" r="0.95" fill="#333"/>
<rect x="344.80" y="264" width="4.30" height="23.00" fill="#0a0a0a"/>
<rect x="349.10" y="262" width="2.90" height="25.00" fill="#ffffff" stroke="#e2e2e2" stroke-width="0.6"/>
<rect x="352.00" y="239.4" width="3.95" height="47.60" fill="#606060" stroke="#3e3e3e" stroke-width="0.6"/>
<rect x="359.10" y="224.4" width="4.20" height="62.60" fill="#aeaeae" stroke="#7a7a7a" stroke-width="0.6"/>
<line x1="361.20" y1="225.4" x2="361.20" y2="287.0" stroke="#c2c2c2" stroke-width="0.9"/>
<line x1="359.10" y1="224.4" x2="363.30" y2="224.4" stroke="#555" stroke-width="0.8"/>
<rect x="363.30" y="238.1" width="4.20" height="48.90" fill="#9e9e9e" stroke="#6e6e6e" stroke-width="0.6"/>
<line x1="365.40" y1="239.1" x2="365.40" y2="287.0" stroke="#b0b0b0" stroke-width="0.9"/>
<line x1="363.30" y1="238.1" x2="367.50" y2="238.1" stroke="#555" stroke-width="0.8"/>
<line x1="346.95" y1="264" x2="346.95" y2="248" stroke="#8a8a8a" stroke-width="0.55" stroke-dasharray="1 0.6"/>
<line x1="346.05" y1="248" x2="347.85" y2="248" stroke="#6a6a6a" stroke-width="0.55"/>
<circle cx="346.95" cy="246.80" r="0.85" fill="#444"/>
<rect x="349.50" y="249.00" width="2.10" height="26.00" fill="#d6d6d6"/>
<line x1="350.55" y1="262" x2="350.55" y2="249" stroke="#8a8a8a" stroke-width="0.55" stroke-dasharray="1 0.6"/>
<line x1="349.65" y1="249" x2="351.45" y2="249" stroke="#6a6a6a" stroke-width="0.55"/>
<line x1="350.55" y1="262" x2="350.55" y2="275.00" stroke="#999" stroke-width="0.55" stroke-dasharray="1 0.6"/>
<line x1="349.65" y1="275.00" x2="351.45" y2="275.00" stroke="#999" stroke-width="0.5"/>
<circle cx="350.55" cy="247.80" r="0.85" fill="#444"/>
<line x1="353.98" y1="239.4" x2="353.98" y2="233.5" stroke="#6a6a6a" stroke-width="0.55"/>
<line x1="353.08" y1="233.5" x2="354.88" y2="233.5" stroke="#6a6a6a" stroke-width="0.55"/>
<line x1="361.20" y1="224.4" x2="361.20" y2="208.5" stroke="#6a6a6a" stroke-width="0.55"/>
<line x1="360.30" y1="208.5" x2="362.10" y2="208.5" stroke="#6a6a6a" stroke-width="0.55"/>
<line x1="365.40" y1="238.1" x2="365.40" y2="228.8" stroke="#6a6a6a" stroke-width="0.55"/>
<line x1="364.50" y1="228.8" x2="366.30" y2="228.8" stroke="#6a6a6a" stroke-width="0.55"/>
<line x1="344" y1="231.9" x2="353.5" y2="231.9" stroke="#333" stroke-width="0.9"/>
<circle cx="348.75" cy="229.30" r="0.95" fill="#333"/>
<rect x="371.10" y="261.9" width="4.30" height="25.10" fill="#0a0a0a"/>
<rect x="375.40" y="261" width="2.90" height="26.00" fill="#ffffff" stroke="#e2e2e2" stroke-width="0.6"/>
<rect x="378.30" y="244.4" width="3.95" height="42.60" fill="#606060" stroke="#3e3e3e" stroke-width="0.6"/>
<rect x="385.40" y="244.4" width="4.20" height="42.60" fill="#aeaeae" stroke="#7a7a7a" stroke-width="0.6"/>
<line x1="387.50" y1="245.4" x2="387.50" y2="287.0" stroke="#c2c2c2" stroke-width="0.9"/>
<line x1="385.40" y1="244.4" x2="389.60" y2="244.4" stroke="#555" stroke-width="0.8"/>
<rect x="389.60" y="234" width="4.20" height="53.00" fill="#9e9e9e" stroke="#6e6e6e" stroke-width="0.6"/>
<line x1="391.70" y1="235" x2="391.70" y2="287.0" stroke="#b0b0b0" stroke-width="0.9"/>
<line x1="389.60" y1="234" x2="393.80" y2="234" stroke="#555" stroke-width="0.8"/>
<line x1="373.25" y1="261.9" x2="373.25" y2="247" stroke="#8a8a8a" stroke-width="0.55" stroke-dasharray="1 0.6"/>
<line x1="372.35" y1="247" x2="374.15" y2="247" stroke="#6a6a6a" stroke-width="0.55"/>
<circle cx="373.25" cy="245.80" r="0.85" fill="#444"/>
<rect x="375.80" y="248.00" width="2.10" height="26.00" fill="#d6d6d6"/>
<line x1="376.85" y1="261" x2="376.85" y2="248" stroke="#8a8a8a" stroke-width="0.55" stroke-dasharray="1 0.6"/>
<line x1="375.95" y1="248" x2="377.75" y2="248" stroke="#6a6a6a" stroke-width="0.55"/>
<line x1="376.85" y1="261" x2="376.85" y2="274.00" stroke="#999" stroke-width="0.55" stroke-dasharray="1 0.6"/>
<line x1="375.95" y1="274.00" x2="377.75" y2="274.00" stroke="#999" stroke-width="0.5"/>
<circle cx="376.85" cy="246.80" r="0.85" fill="#444"/>
<line x1="380.27" y1="244.4" x2="380.27" y2="231" stroke="#6a6a6a" stroke-width="0.55"/>
<line x1="379.38" y1="231" x2="381.17" y2="231" stroke="#6a6a6a" stroke-width="0.55"/>
<line x1="387.50" y1="244.4" x2="387.50" y2="230.6" stroke="#6a6a6a" stroke-width="0.55"/>
<line x1="386.60" y1="230.6" x2="388.40" y2="230.6" stroke="#6a6a6a" stroke-width="0.55"/>
<line x1="391.70" y1="234" x2="391.70" y2="217.3" stroke="#6a6a6a" stroke-width="0.55"/>
<line x1="390.80" y1="217.3" x2="392.60" y2="217.3" stroke="#6a6a6a" stroke-width="0.55"/>
<line x1="371" y1="228.1" x2="380.6" y2="228.1" stroke="#333" stroke-width="0.9"/>
<circle cx="375.80" cy="225.50" r="0.95" fill="#333"/>
<rect x="399.80" y="258.8" width="4.30" height="28.20" fill="#0a0a0a"/>
<rect x="404.10" y="259" width="2.90" height="28.00" fill="#ffffff" stroke="#e2e2e2" stroke-width="0.6"/>
<rect x="407.00" y="237.3" width="3.95" height="49.70" fill="#606060" stroke="#3e3e3e" stroke-width="0.6"/>
<rect x="414.10" y="231" width="4.20" height="56.00" fill="#aeaeae" stroke="#7a7a7a" stroke-width="0.6"/>
<line x1="416.20" y1="232" x2="416.20" y2="287.0" stroke="#c2c2c2" stroke-width="0.9"/>
<line x1="414.10" y1="231" x2="418.30" y2="231" stroke="#555" stroke-width="0.8"/>
<rect x="418.30" y="215" width="4.20" height="72.00" fill="#9e9e9e" stroke="#6e6e6e" stroke-width="0.6"/>
<line x1="420.40" y1="216" x2="420.40" y2="287.0" stroke="#b0b0b0" stroke-width="0.9"/>
<line x1="418.30" y1="215" x2="422.50" y2="215" stroke="#555" stroke-width="0.8"/>
<line x1="401.95" y1="258.8" x2="401.95" y2="246" stroke="#8a8a8a" stroke-width="0.55" stroke-dasharray="1 0.6"/>
<line x1="401.05" y1="246" x2="402.85" y2="246" stroke="#6a6a6a" stroke-width="0.55"/>
<circle cx="401.95" cy="244.80" r="0.85" fill="#444"/>
<rect x="404.50" y="246.50" width="2.10" height="25.00" fill="#d6d6d6"/>
<line x1="405.55" y1="259" x2="405.55" y2="246.5" stroke="#8a8a8a" stroke-width="0.55" stroke-dasharray="1 0.6"/>
<line x1="404.65" y1="246.5" x2="406.45" y2="246.5" stroke="#6a6a6a" stroke-width="0.55"/>
<line x1="405.55" y1="259" x2="405.55" y2="271.50" stroke="#999" stroke-width="0.55" stroke-dasharray="1 0.6"/>
<line x1="404.65" y1="271.50" x2="406.45" y2="271.50" stroke="#999" stroke-width="0.5"/>
<circle cx="405.55" cy="245.30" r="0.85" fill="#444"/>
<line x1="408.98" y1="237.3" x2="408.98" y2="222.8" stroke="#6a6a6a" stroke-width="0.55"/>
<line x1="408.08" y1="222.8" x2="409.88" y2="222.8" stroke="#6a6a6a" stroke-width="0.55"/>
<line x1="416.20" y1="231" x2="416.20" y2="213.1" stroke="#6a6a6a" stroke-width="0.55"/>
<line x1="415.30" y1="213.1" x2="417.10" y2="213.1" stroke="#6a6a6a" stroke-width="0.55"/>
<circle cx="416.20" cy="211.90" r="0.85" fill="#444"/>
<line x1="420.40" y1="215" x2="420.40" y2="187.3" stroke="#6a6a6a" stroke-width="0.55"/>
<line x1="419.50" y1="187.3" x2="421.30" y2="187.3" stroke="#6a6a6a" stroke-width="0.55"/>
<line x1="398.8" y1="219.8" x2="408.8" y2="219.8" stroke="#333" stroke-width="0.9"/>
<circle cx="403.80" cy="217.20" r="0.95" fill="#333"/>
<rect x="448.30" y="257.8" width="4.30" height="29.20" fill="#0a0a0a"/>
<rect x="452.60" y="256.5" width="2.90" height="30.50" fill="#ffffff" stroke="#e2e2e2" stroke-width="0.6"/>
<rect x="455.50" y="244.4" width="3.95" height="42.60" fill="#606060" stroke="#3e3e3e" stroke-width="0.6"/>
<rect x="462.60" y="243.1" width="4.20" height="43.90" fill="#aeaeae" stroke="#7a7a7a" stroke-width="0.6"/>
<line x1="464.70" y1="244.1" x2="464.70" y2="287.0" stroke="#c2c2c2" stroke-width="0.9"/>
<line x1="462.60" y1="243.1" x2="466.80" y2="243.1" stroke="#555" stroke-width="0.8"/>
<rect x="466.80" y="247.3" width="4.20" height="39.70" fill="#9e9e9e" stroke="#6e6e6e" stroke-width="0.6"/>
<line x1="468.90" y1="248.3" x2="468.90" y2="287.0" stroke="#b0b0b0" stroke-width="0.9"/>
<line x1="466.80" y1="247.3" x2="471.00" y2="247.3" stroke="#555" stroke-width="0.8"/>
<line x1="450.45" y1="257.8" x2="450.45" y2="241.3" stroke="#8a8a8a" stroke-width="0.55" stroke-dasharray="1 0.6"/>
<line x1="449.55" y1="241.3" x2="451.35" y2="241.3" stroke="#6a6a6a" stroke-width="0.55"/>
<circle cx="450.45" cy="240.10" r="0.85" fill="#444"/>
<rect x="453.00" y="243.80" width="2.10" height="25.40" fill="#d6d6d6"/>
<line x1="454.05" y1="256.5" x2="454.05" y2="243.8" stroke="#8a8a8a" stroke-width="0.55" stroke-dasharray="1 0.6"/>
<line x1="453.15" y1="243.8" x2="454.95" y2="243.8" stroke="#6a6a6a" stroke-width="0.55"/>
<line x1="454.05" y1="256.5" x2="454.05" y2="269.20" stroke="#999" stroke-width="0.55" stroke-dasharray="1 0.6"/>
<line x1="453.15" y1="269.20" x2="454.95" y2="269.20" stroke="#999" stroke-width="0.5"/>
<circle cx="454.05" cy="242.60" r="0.85" fill="#444"/>
<line x1="457.48" y1="244.4" x2="457.48" y2="225" stroke="#6a6a6a" stroke-width="0.55"/>
<line x1="456.58" y1="225" x2="458.38" y2="225" stroke="#6a6a6a" stroke-width="0.55"/>
<line x1="464.70" y1="243.1" x2="464.70" y2="221.9" stroke="#6a6a6a" stroke-width="0.55"/>
<line x1="463.80" y1="221.9" x2="465.60" y2="221.9" stroke="#6a6a6a" stroke-width="0.55"/>
<line x1="468.90" y1="247.3" x2="468.90" y2="233.5" stroke="#6a6a6a" stroke-width="0.55"/>
<line x1="468.00" y1="233.5" x2="469.80" y2="233.5" stroke="#6a6a6a" stroke-width="0.55"/>
<rect x="476.70" y="264" width="4.30" height="23.00" fill="#0a0a0a"/>
<rect x="481.00" y="260" width="2.90" height="27.00" fill="#ffffff" stroke="#e2e2e2" stroke-width="0.6"/>
<rect x="483.90" y="246.9" width="3.95" height="40.10" fill="#606060" stroke="#3e3e3e" stroke-width="0.6"/>
<rect x="491.00" y="243.1" width="4.20" height="43.90" fill="#aeaeae" stroke="#7a7a7a" stroke-width="0.6"/>
<line x1="493.10" y1="244.1" x2="493.10" y2="287.0" stroke="#c2c2c2" stroke-width="0.9"/>
<line x1="491.00" y1="243.1" x2="495.20" y2="243.1" stroke="#555" stroke-width="0.8"/>
<rect x="495.20" y="238.1" width="4.20" height="48.90" fill="#9e9e9e" stroke="#6e6e6e" stroke-width="0.6"/>
<line x1="497.30" y1="239.1" x2="497.30" y2="287.0" stroke="#b0b0b0" stroke-width="0.9"/>
<line x1="495.20" y1="238.1" x2="499.40" y2="238.1" stroke="#555" stroke-width="0.8"/>
<line x1="478.85" y1="264" x2="478.85" y2="245" stroke="#8a8a8a" stroke-width="0.55" stroke-dasharray="1 0.6"/>
<line x1="477.95" y1="245" x2="479.75" y2="245" stroke="#6a6a6a" stroke-width="0.55"/>
<circle cx="478.85" cy="243.80" r="0.85" fill="#444"/>
<rect x="481.40" y="243.00" width="2.10" height="34.00" fill="#d6d6d6"/>
<line x1="482.45" y1="260" x2="482.45" y2="243" stroke="#8a8a8a" stroke-width="0.55" stroke-dasharray="1 0.6"/>
<line x1="481.55" y1="243" x2="483.35" y2="243" stroke="#6a6a6a" stroke-width="0.55"/>
<line x1="482.45" y1="260" x2="482.45" y2="277.00" stroke="#999" stroke-width="0.55" stroke-dasharray="1 0.6"/>
<line x1="481.55" y1="277.00" x2="483.35" y2="277.00" stroke="#999" stroke-width="0.5"/>
<circle cx="482.45" cy="241.80" r="0.85" fill="#444"/>
<line x1="485.88" y1="246.9" x2="485.88" y2="233.8" stroke="#6a6a6a" stroke-width="0.55"/>
<line x1="484.98" y1="233.8" x2="486.77" y2="233.8" stroke="#6a6a6a" stroke-width="0.55"/>
<line x1="493.10" y1="243.1" x2="493.10" y2="220" stroke="#6a6a6a" stroke-width="0.55"/>
<line x1="492.20" y1="220" x2="494.00" y2="220" stroke="#6a6a6a" stroke-width="0.55"/>
<line x1="497.30" y1="238.1" x2="497.30" y2="209.4" stroke="#6a6a6a" stroke-width="0.55"/>
<line x1="496.40" y1="209.4" x2="498.20" y2="209.4" stroke="#6a6a6a" stroke-width="0.55"/>
<line x1="54" y1="287.0" x2="54" y2="288.2" stroke="#888" stroke-width="0.6"/>
<line x1="82.5" y1="287.0" x2="82.5" y2="288.2" stroke="#888" stroke-width="0.6"/>
<line x1="110" y1="287.0" x2="110" y2="288.2" stroke="#888" stroke-width="0.6"/>
<line x1="138" y1="287.0" x2="138" y2="288.2" stroke="#888" stroke-width="0.6"/>
<line x1="165.5" y1="287.0" x2="165.5" y2="288.2" stroke="#888" stroke-width="0.6"/>
<line x1="193" y1="287.0" x2="193" y2="288.2" stroke="#888" stroke-width="0.6"/>
<line x1="220.6" y1="287.0" x2="220.6" y2="288.2" stroke="#888" stroke-width="0.6"/>
<line x1="230.6" y1="287.0" x2="230.6" y2="288.2" stroke="#888" stroke-width="0.6"/>
<line x1="258" y1="287.0" x2="258" y2="288.2" stroke="#888" stroke-width="0.6"/>
<line x1="286" y1="287.0" x2="286" y2="288.2" stroke="#888" stroke-width="0.6"/>
<line x1="314" y1="287.0" x2="314" y2="288.2" stroke="#888" stroke-width="0.6"/>
<line x1="342" y1="287.0" x2="342" y2="288.2" stroke="#888" stroke-width="0.6"/>
<line x1="370" y1="287.0" x2="370" y2="288.2" stroke="#888" stroke-width="0.6"/>
<line x1="398" y1="287.0" x2="398" y2="288.2" stroke="#888" stroke-width="0.6"/>
<line x1="423" y1="287.0" x2="423" y2="288.2" stroke="#888" stroke-width="0.6"/>
<line x1="442.3" y1="287.0" x2="442.3" y2="288.2" stroke="#888" stroke-width="0.6"/>
<line x1="473.5" y1="287.0" x2="473.5" y2="288.2" stroke="#888" stroke-width="0.6"/>
<line x1="503.9" y1="287.0" x2="503.9" y2="288.2" stroke="#888" stroke-width="0.6"/>
<text x="28.900000000000002" y="294.3" font-size="7.9" text-anchor="end" font-weight="normal" fill="#1a1a1a" stroke="#1a1a1a" stroke-width="0.38" transform="rotate(-90 28.900000000000002 294.3)" textLength="17.8" lengthAdjust="spacingAndGlyphs">siRNA</text>
<text x="43.699999999999996" y="294.3" font-size="7.9" text-anchor="end" font-weight="normal" fill="#1a1a1a" stroke="#1a1a1a" stroke-width="0.38" transform="rotate(-90 43.699999999999996 294.3)" textLength="32.9" lengthAdjust="spacingAndGlyphs">scrambled</text>
<text x="72.0" y="294.3" font-size="7.9" text-anchor="end" font-weight="normal" fill="#1a1a1a" stroke="#1a1a1a" stroke-width="0.38" transform="rotate(-90 72.0 294.3)" textLength="13" lengthAdjust="spacingAndGlyphs">YY1</text>
<text x="101.39999999999999" y="294.3" font-size="7.9" text-anchor="end" font-weight="normal" fill="#1a1a1a" stroke="#1a1a1a" stroke-width="0.38" transform="rotate(-90 101.39999999999999 294.3)" textLength="19.5" lengthAdjust="spacingAndGlyphs">STAT6</text>
<text x="127.5" y="294.3" font-size="7.9" text-anchor="end" font-weight="normal" fill="#1a1a1a" stroke="#1a1a1a" stroke-width="0.38" transform="rotate(-90 127.5 294.3)" textLength="19.5" lengthAdjust="spacingAndGlyphs">RASA1</text>
<text x="155.3" y="294.3" font-size="7.9" text-anchor="end" font-weight="normal" fill="#1a1a1a" stroke="#1a1a1a" stroke-width="0.38" transform="rotate(-90 155.3 294.3)" textLength="25" lengthAdjust="spacingAndGlyphs">CREBBP</text>
<text x="180.4" y="294.3" font-size="7.9" text-anchor="end" font-weight="normal" fill="#1a1a1a" stroke="#1a1a1a" stroke-width="0.38" transform="rotate(-90 180.4 294.3)" textLength="22.8" lengthAdjust="spacingAndGlyphs">PIK3R3</text>
<text x="208.20000000000002" y="294.3" font-size="7.9" text-anchor="end" font-weight="normal" fill="#1a1a1a" stroke="#1a1a1a" stroke-width="0.38" transform="rotate(-90 208.20000000000002 294.3)" textLength="20.1" lengthAdjust="spacingAndGlyphs">TRAF4</text>
<text x="249.20000000000002" y="294.3" font-size="7.9" text-anchor="end" font-weight="normal" fill="#1a1a1a" stroke="#1a1a1a" stroke-width="0.38" transform="rotate(-90 249.20000000000002 294.3)" textLength="21.4" lengthAdjust="spacingAndGlyphs">RNF41</text>
<text x="276.6" y="294.3" font-size="7.9" text-anchor="end" font-weight="normal" fill="#1a1a1a" stroke="#1a1a1a" stroke-width="0.38" transform="rotate(-90 276.6 294.3)" textLength="23.2" lengthAdjust="spacingAndGlyphs">STAT5B</text>
<text x="304.7" y="294.3" font-size="7.9" text-anchor="end" font-weight="normal" fill="#1a1a1a" stroke="#1a1a1a" stroke-width="0.38" transform="rotate(-90 304.7 294.3)" textLength="26.8" lengthAdjust="spacingAndGlyphs">CSNK1D</text>
<text x="332.1" y="294.3" font-size="7.9" text-anchor="end" font-weight="normal" fill="#1a1a1a" stroke="#1a1a1a" stroke-width="0.38" transform="rotate(-90 332.1 294.3)" textLength="12.2" lengthAdjust="spacingAndGlyphs">FOS</text>
<text x="358.7" y="294.3" font-size="7.9" text-anchor="end" font-weight="normal" fill="#1a1a1a" stroke="#1a1a1a" stroke-width="0.38" transform="rotate(-90 358.7 294.3)" textLength="25" lengthAdjust="spacingAndGlyphs">MAPK13</text>
<text x="387.90000000000003" y="294.3" font-size="7.9" text-anchor="end" font-weight="normal" fill="#1a1a1a" stroke="#1a1a1a" stroke-width="0.38" transform="rotate(-90 387.90000000000003 294.3)" textLength="11.5" lengthAdjust="spacingAndGlyphs">SRF</text>
<text x="415.3" y="294.3" font-size="7.9" text-anchor="end" font-weight="normal" fill="#1a1a1a" stroke="#1a1a1a" stroke-width="0.38" transform="rotate(-90 415.3 294.3)" textLength="21.4" lengthAdjust="spacingAndGlyphs">PRKCH</text>
<text x="464.7" y="294.3" font-size="7.9" text-anchor="end" font-weight="normal" fill="#1a1a1a" stroke="#1a1a1a" stroke-width="0.38" transform="rotate(-90 464.7 294.3)" textLength="24.5" lengthAdjust="spacingAndGlyphs">RASAL2</text>
<text x="492.8" y="294.3" font-size="7.9" text-anchor="end" font-weight="normal" fill="#1a1a1a" stroke="#1a1a1a" stroke-width="0.38" transform="rotate(-90 492.8 294.3)" textLength="26.8" lengthAdjust="spacingAndGlyphs">PIK3C2B</text>
<text x="0.3" y="346.3" font-size="11.0" text-anchor="start" font-weight="bold" fill="#111" stroke="#111" stroke-width="0.38">D</text>
<text x="278.5" y="344.6" font-size="9.7" text-anchor="middle" font-weight="normal" fill="#222" stroke="#222" stroke-width="0.38">Hepcidin mRNA expression</text>
<text x="278.7" y="356.3" font-size="9.7" text-anchor="middle" font-weight="normal" fill="#222" stroke="#222" stroke-width="0.38">(fold change vs scrambled siRNA)</text>
<text x="130.5" y="379.2" font-size="8.4" text-anchor="start" font-weight="normal" fill="#222" stroke="#222" stroke-width="0.38">Gene</text>
<text x="130.5" y="389.2" font-size="8.4" text-anchor="start" font-weight="normal" fill="#222" stroke="#222" stroke-width="0.38">knockdown</text>
<text x="217.4" y="379.2" font-size="8.4" text-anchor="middle" font-weight="normal" fill="#222" stroke="#222" stroke-width="0.38">steady-state</text>
<text x="218.3" y="389.2" font-size="8.4" text-anchor="middle" font-weight="normal" fill="#222" stroke="#222" stroke-width="0.38">conditions</text>
<text x="280.6" y="379.2" font-size="8.4" text-anchor="middle" font-weight="normal" fill="#222" stroke="#222" stroke-width="0.38">fold induction</text>
<text x="282.4" y="389.2" font-size="8.4" text-anchor="middle" font-weight="normal" fill="#222" stroke="#222" stroke-width="0.38">upon IL-6</text>
<text x="348.0" y="379.2" font-size="8.4" text-anchor="middle" font-weight="normal" fill="#222" stroke="#222" stroke-width="0.38">fold induction</text>
<text x="349.5" y="389.2" font-size="8.4" text-anchor="middle" font-weight="normal" fill="#222" stroke="#222" stroke-width="0.38">upon BMP-6</text>
<rect x="130.2" y="395.40" width="53.0" height="11.88" fill="#fff"/>
<rect x="183.20" y="395.40" width="67.00" height="11.88" fill="#e2e2e2"/>
<path d="M208.40 398.00 V405.00 M205.30 401.60 Q207.40 402.80 208.40 405.30 Q209.40 402.80 211.50 401.60" fill="none" stroke="#222" stroke-width="0.95"/>
<path d="M216.70 398.00 V405.00 M213.60 401.60 Q215.70 402.80 216.70 405.30 Q217.70 402.80 219.80 401.60" fill="none" stroke="#222" stroke-width="0.95"/>
<path d="M225.00 398.00 V405.00 M221.90 401.60 Q224.00 402.80 225.00 405.30 Q226.00 402.80 228.10 401.60" fill="none" stroke="#222" stroke-width="0.95"/>
<rect x="250.20" y="395.40" width="65.80" height="11.88" fill="#e2e2e2"/>
<path d="M274.80 398.00 V405.00 M271.70 401.60 Q273.80 402.80 274.80 405.30 Q275.80 402.80 277.90 401.60" fill="none" stroke="#222" stroke-width="0.95"/>
<path d="M283.10 398.00 V405.00 M280.00 401.60 Q282.10 402.80 283.10 405.30 Q284.10 402.80 286.20 401.60" fill="none" stroke="#222" stroke-width="0.95"/>
<path d="M291.40 398.00 V405.00 M288.30 401.60 Q290.40 402.80 291.40 405.30 Q292.40 402.80 294.50 401.60" fill="none" stroke="#222" stroke-width="0.95"/>
<rect x="316.00" y="395.40" width="66.00" height="11.88" fill="#777777"/>
<line x1="345.40" y1="401.94" x2="352.60" y2="401.94" stroke="#333" stroke-width="1.0"/>
<text x="131.6" y="405.2911764705882" font-size="9.7" text-anchor="start" font-weight="normal" fill="#1a1a1a" stroke="#1a1a1a" stroke-width="0.38" textLength="26.95" lengthAdjust="spacingAndGlyphs">STAT3</text>
<rect x="130.2" y="407.28" width="53.0" height="11.88" fill="#fff"/>
<rect x="183.20" y="407.28" width="67.00" height="11.88" fill="#c0c0c0"/>
<path d="M212.55 409.88 V416.88 M209.45 413.48 Q211.55 414.68 212.55 417.18 Q213.55 414.68 215.65 413.48" fill="none" stroke="#222" stroke-width="0.95"/>
<path d="M220.85 409.88 V416.88 M217.75 413.48 Q219.85 414.68 220.85 417.18 Q221.85 414.68 223.95 413.48" fill="none" stroke="#222" stroke-width="0.95"/>
<rect x="250.20" y="407.28" width="65.80" height="11.88" fill="#c0c0c0"/>
<path d="M278.95 409.88 V416.88 M275.85 413.48 Q277.95 414.68 278.95 417.18 Q279.95 414.68 282.05 413.48" fill="none" stroke="#222" stroke-width="0.95"/>
<path d="M287.25 409.88 V416.88 M284.15 413.48 Q286.25 414.68 287.25 417.18 Q288.25 414.68 290.35 413.48" fill="none" stroke="#222" stroke-width="0.95"/>
<rect x="316.00" y="407.28" width="66.00" height="11.88" fill="#c0c0c0"/>
<path d="M344.85 409.88 V416.88 M341.75 413.48 Q343.85 414.68 344.85 417.18 Q345.85 414.68 347.95 413.48" fill="none" stroke="#222" stroke-width="0.95"/>
<path d="M353.15 409.88 V416.88 M350.05 413.48 Q352.15 414.68 353.15 417.18 Q354.15 414.68 356.25 413.48" fill="none" stroke="#222" stroke-width="0.95"/>
<text x="131.6" y="417.17352941176466" font-size="9.7" text-anchor="start" font-weight="normal" fill="#1a1a1a" stroke="#1a1a1a" stroke-width="0.38" textLength="31.33" lengthAdjust="spacingAndGlyphs">SMAD4</text>
<rect x="130.2" y="419.16" width="53.0" height="11.88" fill="#fff"/>
<rect x="183.20" y="419.16" width="67.00" height="11.88" fill="#c0c0c0"/>
<path d="M212.55 421.76 V428.76 M209.45 425.36 Q211.55 426.56 212.55 429.06 Q213.55 426.56 215.65 425.36" fill="none" stroke="#222" stroke-width="0.95"/>
<path d="M220.85 421.76 V428.76 M217.75 425.36 Q219.85 426.56 220.85 429.06 Q221.85 426.56 223.95 425.36" fill="none" stroke="#222" stroke-width="0.95"/>
<rect x="250.20" y="419.16" width="65.80" height="11.88" fill="#c0c0c0"/>
<path d="M278.95 421.76 V428.76 M275.85 425.36 Q277.95 426.56 278.95 429.06 Q279.95 426.56 282.05 425.36" fill="none" stroke="#222" stroke-width="0.95"/>
<path d="M287.25 421.76 V428.76 M284.15 425.36 Q286.25 426.56 287.25 429.06 Q288.25 426.56 290.35 425.36" fill="none" stroke="#222" stroke-width="0.95"/>
<rect x="316.00" y="419.16" width="66.00" height="11.88" fill="#e2e2e2"/>
<path d="M340.70 421.76 V428.76 M337.60 425.36 Q339.70 426.56 340.70 429.06 Q341.70 426.56 343.80 425.36" fill="none" stroke="#222" stroke-width="0.95"/>
<path d="M349.00 421.76 V428.76 M345.90 425.36 Q348.00 426.56 349.00 429.06 Q350.00 426.56 352.10 425.36" fill="none" stroke="#222" stroke-width="0.95"/>
<path d="M357.30 421.76 V428.76 M354.20 425.36 Q356.30 426.56 357.30 429.06 Q358.30 426.56 360.40 425.36" fill="none" stroke="#222" stroke-width="0.95"/>
<text x="131.6" y="429.0558823529411" font-size="9.7" text-anchor="start" font-weight="normal" fill="#1a1a1a" stroke="#1a1a1a" stroke-width="0.38" textLength="26.95" lengthAdjust="spacingAndGlyphs">STAT6</text>
<rect x="130.2" y="431.05" width="53.0" height="11.88" fill="#fff"/>
<rect x="183.20" y="431.05" width="67.00" height="11.88" fill="#c0c0c0"/>
<path d="M212.55 433.65 V440.65 M209.45 437.25 Q211.55 438.45 212.55 440.95 Q213.55 438.45 215.65 437.25" fill="none" stroke="#222" stroke-width="0.95"/>
<path d="M220.85 433.65 V440.65 M217.75 437.25 Q219.85 438.45 220.85 440.95 Q221.85 438.45 223.95 437.25" fill="none" stroke="#222" stroke-width="0.95"/>
<rect x="250.20" y="431.05" width="65.80" height="11.88" fill="#c0c0c0"/>
<path d="M278.95 433.65 V440.65 M275.85 437.25 Q277.95 438.45 278.95 440.95 Q279.95 438.45 282.05 437.25" fill="none" stroke="#222" stroke-width="0.95"/>
<path d="M287.25 433.65 V440.65 M284.15 437.25 Q286.25 438.45 287.25 440.95 Q288.25 438.45 290.35 437.25" fill="none" stroke="#222" stroke-width="0.95"/>
<rect x="316.00" y="431.05" width="66.00" height="11.88" fill="#979797"/>
<path d="M349.00 433.65 V440.65 M345.90 437.25 Q348.00 438.45 349.00 440.95 Q350.00 438.45 352.10 437.25" fill="none" stroke="#222" stroke-width="0.95"/>
<text x="131.6" y="440.9382352941176" font-size="9.7" text-anchor="start" font-weight="normal" fill="#1a1a1a" stroke="#1a1a1a" stroke-width="0.38" textLength="37.40" lengthAdjust="spacingAndGlyphs">CREBBP</text>
<rect x="130.2" y="442.93" width="53.0" height="11.88" fill="#fff"/>
<rect x="183.20" y="442.93" width="67.00" height="11.88" fill="#e2e2e2"/>
<path d="M208.40 445.53 V452.53 M205.30 449.13 Q207.40 450.33 208.40 452.83 Q209.40 450.33 211.50 449.13" fill="none" stroke="#222" stroke-width="0.95"/>
<path d="M216.70 445.53 V452.53 M213.60 449.13 Q215.70 450.33 216.70 452.83 Q217.70 450.33 219.80 449.13" fill="none" stroke="#222" stroke-width="0.95"/>
<path d="M225.00 445.53 V452.53 M221.90 449.13 Q224.00 450.33 225.00 452.83 Q226.00 450.33 228.10 449.13" fill="none" stroke="#222" stroke-width="0.95"/>
<rect x="250.20" y="442.93" width="65.80" height="11.88" fill="#c0c0c0"/>
<path d="M278.95 445.53 V452.53 M275.85 449.13 Q277.95 450.33 278.95 452.83 Q279.95 450.33 282.05 449.13" fill="none" stroke="#222" stroke-width="0.95"/>
<path d="M287.25 445.53 V452.53 M284.15 449.13 Q286.25 450.33 287.25 452.83 Q288.25 450.33 290.35 449.13" fill="none" stroke="#222" stroke-width="0.95"/>
<rect x="316.00" y="442.93" width="66.00" height="11.88" fill="#c0c0c0"/>
<path d="M344.85 445.53 V452.53 M341.75 449.13 Q343.85 450.33 344.85 452.83 Q345.85 450.33 347.95 449.13" fill="none" stroke="#222" stroke-width="0.95"/>
<path d="M353.15 445.53 V452.53 M350.05 449.13 Q352.15 450.33 353.15 452.83 Q354.15 450.33 356.25 449.13" fill="none" stroke="#222" stroke-width="0.95"/>
<text x="131.6" y="452.82058823529405" font-size="9.7" text-anchor="start" font-weight="normal" fill="#1a1a1a" stroke="#1a1a1a" stroke-width="0.38" textLength="18.19" lengthAdjust="spacingAndGlyphs">SRF</text>
<rect x="130.2" y="454.81" width="53.0" height="11.88" fill="#fff"/>
<rect x="183.20" y="454.81" width="67.00" height="11.88" fill="#c0c0c0"/>
<path d="M212.55 457.41 V464.41 M209.45 461.01 Q211.55 462.21 212.55 464.71 Q213.55 462.21 215.65 461.01" fill="none" stroke="#222" stroke-width="0.95"/>
<path d="M220.85 457.41 V464.41 M217.75 461.01 Q219.85 462.21 220.85 464.71 Q221.85 462.21 223.95 461.01" fill="none" stroke="#222" stroke-width="0.95"/>
<rect x="250.20" y="454.81" width="65.80" height="11.88" fill="#979797"/>
<path d="M283.10 457.41 V464.41 M280.00 461.01 Q282.10 462.21 283.10 464.71 Q284.10 462.21 286.20 461.01" fill="none" stroke="#222" stroke-width="0.95"/>
<rect x="316.00" y="454.81" width="66.00" height="11.88" fill="#777777"/>
<line x1="345.40" y1="461.35" x2="352.60" y2="461.35" stroke="#333" stroke-width="1.0"/>
<text x="131.6" y="464.7029411764706" font-size="9.7" text-anchor="start" font-weight="normal" fill="#1a1a1a" stroke="#1a1a1a" stroke-width="0.38" textLength="17.19" lengthAdjust="spacingAndGlyphs">YY1</text>
<rect x="130.2" y="466.69" width="53.0" height="11.88" fill="#fff"/>
<rect x="183.20" y="466.69" width="67.00" height="11.88" fill="#e2e2e2"/>
<path d="M208.40 469.29 V476.29 M205.30 472.89 Q207.40 474.09 208.40 476.59 Q209.40 474.09 211.50 472.89" fill="none" stroke="#222" stroke-width="0.95"/>
<path d="M216.70 469.29 V476.29 M213.60 472.89 Q215.70 474.09 216.70 476.59 Q217.70 474.09 219.80 472.89" fill="none" stroke="#222" stroke-width="0.95"/>
<path d="M225.00 469.29 V476.29 M221.90 472.89 Q224.00 474.09 225.00 476.59 Q226.00 474.09 228.10 472.89" fill="none" stroke="#222" stroke-width="0.95"/>
<rect x="250.20" y="466.69" width="65.80" height="11.88" fill="#c0c0c0"/>
<path d="M278.95 469.29 V476.29 M275.85 472.89 Q277.95 474.09 278.95 476.59 Q279.95 474.09 282.05 472.89" fill="none" stroke="#222" stroke-width="0.95"/>
<path d="M287.25 469.29 V476.29 M284.15 472.89 Q286.25 474.09 287.25 476.59 Q288.25 474.09 290.35 472.89" fill="none" stroke="#222" stroke-width="0.95"/>
<rect x="316.00" y="466.69" width="66.00" height="11.88" fill="#777777"/>
<line x1="345.40" y1="473.24" x2="352.60" y2="473.24" stroke="#333" stroke-width="1.0"/>
<text x="131.6" y="476.58529411764704" font-size="9.7" text-anchor="start" font-weight="normal" fill="#1a1a1a" stroke="#1a1a1a" stroke-width="0.38" textLength="29.82" lengthAdjust="spacingAndGlyphs">RASA1</text>
<rect x="130.2" y="478.58" width="53.0" height="11.88" fill="#fff"/>
<rect x="183.20" y="478.58" width="67.00" height="11.88" fill="#c0c0c0"/>
<path d="M212.55 481.18 V488.18 M209.45 484.78 Q211.55 485.98 212.55 488.48 Q213.55 485.98 215.65 484.78" fill="none" stroke="#222" stroke-width="0.95"/>
<path d="M220.85 481.18 V488.18 M217.75 484.78 Q219.85 485.98 220.85 488.48 Q221.85 485.98 223.95 484.78" fill="none" stroke="#222" stroke-width="0.95"/>
<rect x="250.20" y="478.58" width="65.80" height="11.88" fill="#c0c0c0"/>
<path d="M278.95 481.18 V488.18 M275.85 484.78 Q277.95 485.98 278.95 488.48 Q279.95 485.98 282.05 484.78" fill="none" stroke="#222" stroke-width="0.95"/>
<path d="M287.25 481.18 V488.18 M284.15 484.78 Q286.25 485.98 287.25 488.48 Q288.25 485.98 290.35 484.78" fill="none" stroke="#222" stroke-width="0.95"/>
<rect x="316.00" y="478.58" width="66.00" height="11.88" fill="#777777"/>
<line x1="345.40" y1="485.12" x2="352.60" y2="485.12" stroke="#333" stroke-width="1.0"/>
<text x="131.6" y="488.4676470588235" font-size="9.7" text-anchor="start" font-weight="normal" fill="#1a1a1a" stroke="#1a1a1a" stroke-width="0.38" textLength="37.41" lengthAdjust="spacingAndGlyphs">PIK3C2B</text>
<rect x="130.2" y="490.46" width="53.0" height="11.88" fill="#fff"/>
<rect x="183.20" y="490.46" width="67.00" height="11.88" fill="#c0c0c0"/>
<path d="M212.55 493.06 V500.06 M209.45 496.66 Q211.55 497.86 212.55 500.36 Q213.55 497.86 215.65 496.66" fill="none" stroke="#222" stroke-width="0.95"/>
<path d="M220.85 493.06 V500.06 M217.75 496.66 Q219.85 497.86 220.85 500.36 Q221.85 497.86 223.95 496.66" fill="none" stroke="#222" stroke-width="0.95"/>
<rect x="250.20" y="490.46" width="65.80" height="11.88" fill="#c0c0c0"/>
<path d="M278.95 493.06 V500.06 M275.85 496.66 Q277.95 497.86 278.95 500.36 Q279.95 497.86 282.05 496.66" fill="none" stroke="#222" stroke-width="0.95"/>
<path d="M287.25 493.06 V500.06 M284.15 496.66 Q286.25 497.86 287.25 500.36 Q288.25 497.86 290.35 496.66" fill="none" stroke="#222" stroke-width="0.95"/>
<rect x="316.00" y="490.46" width="66.00" height="11.88" fill="#777777"/>
<line x1="345.40" y1="497.00" x2="352.60" y2="497.00" stroke="#333" stroke-width="1.0"/>
<text x="131.6" y="500.34999999999997" font-size="9.7" text-anchor="start" font-weight="normal" fill="#1a1a1a" stroke="#1a1a1a" stroke-width="0.38" textLength="28.80" lengthAdjust="spacingAndGlyphs">RNF41</text>
<rect x="130.2" y="502.34" width="53.0" height="11.88" fill="#fff"/>
<rect x="183.20" y="502.34" width="67.00" height="11.88" fill="#c0c0c0"/>
<path d="M212.55 504.94 V511.94 M209.45 508.54 Q211.55 509.74 212.55 512.24 Q213.55 509.74 215.65 508.54" fill="none" stroke="#222" stroke-width="0.95"/>
<path d="M220.85 504.94 V511.94 M217.75 508.54 Q219.85 509.74 220.85 512.24 Q221.85 509.74 223.95 508.54" fill="none" stroke="#222" stroke-width="0.95"/>
<rect x="250.20" y="502.34" width="65.80" height="11.88" fill="#979797"/>
<path d="M283.10 504.94 V511.94 M280.00 508.54 Q282.10 509.74 283.10 512.24 Q284.10 509.74 286.20 508.54" fill="none" stroke="#222" stroke-width="0.95"/>
<rect x="316.00" y="502.34" width="66.00" height="11.88" fill="#777777"/>
<line x1="345.40" y1="508.88" x2="352.60" y2="508.88" stroke="#333" stroke-width="1.0"/>
<text x="131.6" y="512.2323529411765" font-size="9.7" text-anchor="start" font-weight="normal" fill="#1a1a1a" stroke="#1a1a1a" stroke-width="0.38" textLength="33.01" lengthAdjust="spacingAndGlyphs">STAT5B</text>
<rect x="130.2" y="514.22" width="53.0" height="11.88" fill="#fff"/>
<rect x="183.20" y="514.22" width="67.00" height="11.88" fill="#c0c0c0"/>
<path d="M212.55 516.82 V523.82 M209.45 520.42 Q211.55 521.62 212.55 524.12 Q213.55 521.62 215.65 520.42" fill="none" stroke="#222" stroke-width="0.95"/>
<path d="M220.85 516.82 V523.82 M217.75 520.42 Q219.85 521.62 220.85 524.12 Q221.85 521.62 223.95 520.42" fill="none" stroke="#222" stroke-width="0.95"/>
<rect x="250.20" y="514.22" width="65.80" height="11.88" fill="#c0c0c0"/>
<path d="M278.95 516.82 V523.82 M275.85 520.42 Q277.95 521.62 278.95 524.12 Q279.95 521.62 282.05 520.42" fill="none" stroke="#222" stroke-width="0.95"/>
<path d="M287.25 516.82 V523.82 M284.15 520.42 Q286.25 521.62 287.25 524.12 Q288.25 521.62 290.35 520.42" fill="none" stroke="#222" stroke-width="0.95"/>
<rect x="316.00" y="514.22" width="66.00" height="11.88" fill="#777777"/>
<line x1="345.40" y1="520.76" x2="352.60" y2="520.76" stroke="#333" stroke-width="1.0"/>
<text x="131.6" y="524.1147058823531" font-size="9.7" text-anchor="start" font-weight="normal" fill="#1a1a1a" stroke="#1a1a1a" stroke-width="0.38" textLength="18.69" lengthAdjust="spacingAndGlyphs">FOS</text>
<rect x="130.2" y="526.11" width="53.0" height="11.88" fill="#fff"/>
<rect x="183.20" y="526.11" width="67.00" height="11.88" fill="#e2e2e2"/>
<path d="M208.40 528.71 V535.71 M205.30 532.31 Q207.40 533.51 208.40 536.01 Q209.40 533.51 211.50 532.31" fill="none" stroke="#222" stroke-width="0.95"/>
<path d="M216.70 528.71 V535.71 M213.60 532.31 Q215.70 533.51 216.70 536.01 Q217.70 533.51 219.80 532.31" fill="none" stroke="#222" stroke-width="0.95"/>
<path d="M225.00 528.71 V535.71 M221.90 532.31 Q224.00 533.51 225.00 536.01 Q226.00 533.51 228.10 532.31" fill="none" stroke="#222" stroke-width="0.95"/>
<rect x="250.20" y="526.11" width="65.80" height="11.88" fill="#979797"/>
<path d="M283.10 528.71 V535.71 M280.00 532.31 Q282.10 533.51 283.10 536.01 Q284.10 533.51 286.20 532.31" fill="none" stroke="#222" stroke-width="0.95"/>
<rect x="316.00" y="526.11" width="66.00" height="11.88" fill="#777777"/>
<line x1="345.40" y1="532.65" x2="352.60" y2="532.65" stroke="#333" stroke-width="1.0"/>
<text x="131.6" y="535.9970588235295" font-size="9.7" text-anchor="start" font-weight="normal" fill="#1a1a1a" stroke="#1a1a1a" stroke-width="0.38" textLength="35.89" lengthAdjust="spacingAndGlyphs">MAPK13</text>
<rect x="130.2" y="537.99" width="53.0" height="11.88" fill="#fff"/>
<rect x="183.20" y="537.99" width="67.00" height="11.88" fill="#c0c0c0"/>
<path d="M212.55 540.59 V547.59 M209.45 544.19 Q211.55 545.39 212.55 547.89 Q213.55 545.39 215.65 544.19" fill="none" stroke="#222" stroke-width="0.95"/>
<path d="M220.85 540.59 V547.59 M217.75 544.19 Q219.85 545.39 220.85 547.89 Q221.85 545.39 223.95 544.19" fill="none" stroke="#222" stroke-width="0.95"/>
<rect x="250.20" y="537.99" width="65.80" height="11.88" fill="#c0c0c0"/>
<path d="M278.95 540.59 V547.59 M275.85 544.19 Q277.95 545.39 278.95 547.89 Q279.95 545.39 282.05 544.19" fill="none" stroke="#222" stroke-width="0.95"/>
<path d="M287.25 540.59 V547.59 M284.15 544.19 Q286.25 545.39 287.25 547.89 Q288.25 545.39 290.35 544.19" fill="none" stroke="#222" stroke-width="0.95"/>
<rect x="316.00" y="537.99" width="66.00" height="11.88" fill="#777777"/>
<line x1="345.40" y1="544.53" x2="352.60" y2="544.53" stroke="#333" stroke-width="1.0"/>
<text x="131.6" y="547.879411764706" font-size="9.7" text-anchor="start" font-weight="normal" fill="#1a1a1a" stroke="#1a1a1a" stroke-width="0.38" textLength="31.83" lengthAdjust="spacingAndGlyphs">PRKCH</text>
<rect x="130.2" y="549.87" width="53.0" height="11.88" fill="#fff"/>
<rect x="183.20" y="549.87" width="67.00" height="11.88" fill="#c0c0c0"/>
<path d="M212.55 552.47 V559.47 M209.45 556.07 Q211.55 557.27 212.55 559.77 Q213.55 557.27 215.65 556.07" fill="none" stroke="#222" stroke-width="0.95"/>
<path d="M220.85 552.47 V559.47 M217.75 556.07 Q219.85 557.27 220.85 559.77 Q221.85 557.27 223.95 556.07" fill="none" stroke="#222" stroke-width="0.95"/>
<rect x="250.20" y="549.87" width="65.80" height="11.88" fill="#777777"/>
<line x1="279.50" y1="556.41" x2="286.70" y2="556.41" stroke="#333" stroke-width="1.0"/>
<rect x="316.00" y="549.87" width="66.00" height="11.88" fill="#777777"/>
<line x1="345.40" y1="556.41" x2="352.60" y2="556.41" stroke="#333" stroke-width="1.0"/>
<text x="131.6" y="559.7617647058825" font-size="9.7" text-anchor="start" font-weight="normal" fill="#1a1a1a" stroke="#1a1a1a" stroke-width="0.38" textLength="34.88" lengthAdjust="spacingAndGlyphs">RASAL2</text>
<rect x="130.2" y="561.75" width="53.0" height="11.88" fill="#fff"/>
<rect x="183.20" y="561.75" width="67.00" height="11.88" fill="#c0c0c0"/>
<path d="M212.55 564.35 V571.35 M209.45 567.95 Q211.55 569.15 212.55 571.65 Q213.55 569.15 215.65 567.95" fill="none" stroke="#222" stroke-width="0.95"/>
<path d="M220.85 564.35 V571.35 M217.75 567.95 Q219.85 569.15 220.85 571.65 Q221.85 569.15 223.95 567.95" fill="none" stroke="#222" stroke-width="0.95"/>
<rect x="250.20" y="561.75" width="65.80" height="11.88" fill="#777777"/>
<line x1="279.50" y1="568.29" x2="286.70" y2="568.29" stroke="#333" stroke-width="1.0"/>
<rect x="316.00" y="561.75" width="66.00" height="11.88" fill="#777777"/>
<line x1="345.40" y1="568.29" x2="352.60" y2="568.29" stroke="#333" stroke-width="1.0"/>
<text x="131.6" y="571.6441176470589" font-size="9.7" text-anchor="start" font-weight="normal" fill="#1a1a1a" stroke="#1a1a1a" stroke-width="0.38" textLength="31.34" lengthAdjust="spacingAndGlyphs">PIK3R3</text>
<rect x="130.2" y="573.64" width="53.0" height="11.88" fill="#fff"/>
<rect x="183.20" y="573.64" width="67.00" height="11.88" fill="#e2e2e2"/>
<path d="M208.40 576.24 V583.24 M205.30 579.84 Q207.40 581.04 208.40 583.54 Q209.40 581.04 211.50 579.84" fill="none" stroke="#222" stroke-width="0.95"/>
<path d="M216.70 576.24 V583.24 M213.60 579.84 Q215.70 581.04 216.70 583.54 Q217.70 581.04 219.80 579.84" fill="none" stroke="#222" stroke-width="0.95"/>
<path d="M225.00 576.24 V583.24 M221.90 579.84 Q224.00 581.04 225.00 583.54 Q226.00 581.04 228.10 579.84" fill="none" stroke="#222" stroke-width="0.95"/>
<rect x="250.20" y="573.64" width="65.80" height="11.88" fill="#777777"/>
<line x1="279.50" y1="580.18" x2="286.70" y2="580.18" stroke="#333" stroke-width="1.0"/>
<rect x="316.00" y="573.64" width="66.00" height="11.88" fill="#777777"/>
<line x1="345.40" y1="580.18" x2="352.60" y2="580.18" stroke="#333" stroke-width="1.0"/>
<text x="131.6" y="583.5264705882354" font-size="9.7" text-anchor="start" font-weight="normal" fill="#1a1a1a" stroke="#1a1a1a" stroke-width="0.38" textLength="28.80" lengthAdjust="spacingAndGlyphs">TRAF4</text>
<rect x="130.2" y="585.52" width="53.0" height="11.88" fill="#fff"/>
<rect x="183.20" y="585.52" width="67.00" height="11.88" fill="#c0c0c0"/>
<path d="M212.55 588.12 V595.12 M209.45 591.72 Q211.55 592.92 212.55 595.42 Q213.55 592.92 215.65 591.72" fill="none" stroke="#222" stroke-width="0.95"/>
<path d="M220.85 588.12 V595.12 M217.75 591.72 Q219.85 592.92 220.85 595.42 Q221.85 592.92 223.95 591.72" fill="none" stroke="#222" stroke-width="0.95"/>
<rect x="250.20" y="585.52" width="65.80" height="11.88" fill="#777777"/>
<line x1="279.50" y1="592.06" x2="286.70" y2="592.06" stroke="#333" stroke-width="1.0"/>
<rect x="316.00" y="585.52" width="66.00" height="11.88" fill="#777777"/>
<line x1="345.40" y1="592.06" x2="352.60" y2="592.06" stroke="#333" stroke-width="1.0"/>
<text x="131.6" y="595.4088235294118" font-size="9.7" text-anchor="start" font-weight="normal" fill="#1a1a1a" stroke="#1a1a1a" stroke-width="0.38" textLength="36.89" lengthAdjust="spacingAndGlyphs">CSNK1D</text>
<path d="M130.2 395.40 H382.0 M130.2 407.28 H382.0 M130.2 419.16 H382.0 M130.2 431.05 H382.0 M130.2 442.93 H382.0 M130.2 454.81 H382.0 M130.2 466.69 H382.0 M130.2 478.58 H382.0 M130.2 490.46 H382.0 M130.2 502.34 H382.0 M130.2 514.22 H382.0 M130.2 526.11 H382.0 M130.2 537.99 H382.0 M130.2 549.87 H382.0 M130.2 561.75 H382.0 M130.2 573.64 H382.0 M130.2 585.52 H382.0 M130.2 597.40 H382.0 M130.2 395.4 V597.4 M183.2 395.4 V597.4 M250.2 395.4 V597.4 M316.0 395.4 V597.4 M382.0 395.4 V597.4" stroke="#222" stroke-width="1.1" fill="none"/>
<line x1="124.6" y1="419.16" x2="130.2" y2="419.16" stroke="#222" stroke-width="0.9"/>
<line x1="124.6" y1="454.81" x2="130.2" y2="454.81" stroke="#222" stroke-width="0.9"/>
<line x1="124.6" y1="549.87" x2="130.2" y2="549.87" stroke="#222" stroke-width="0.9"/>
<text x="63.1" y="410.5" font-size="8.3" text-anchor="start" font-weight="normal" fill="#222" stroke="#222" stroke-width="0.38">positive controls</text>
<text x="25.2" y="441.4" font-size="8.3" text-anchor="start" font-weight="normal" fill="#222" stroke="#222" stroke-width="0.38">IL-6 and BMP-6 reponses</text>
<text x="69.6" y="504.2" font-size="8.3" text-anchor="start" font-weight="normal" fill="#222" stroke="#222" stroke-width="0.38">IL-6 reponses</text>
<text x="16.9" y="575.8" font-size="8.3" text-anchor="start" font-weight="normal" fill="#222" stroke="#222" stroke-width="0.38">steady-state expression only</text>
<rect x="428.7" y="449.20" width="90.30" height="10.12" fill="#e6e6e6"/>
<text x="450.79999999999995" y="457.06" font-size="7.7" text-anchor="middle" font-weight="normal" fill="#222" stroke="#222" stroke-width="0.12">&lt;30%</text>
<path d="M489.35 451.00 V457.40 M486.65 454.00 Q488.45 455.10 489.35 457.70 Q490.25 455.10 492.05 454.00" fill="none" stroke="#222" stroke-width="0.9"/>
<path d="M495.95 451.00 V457.40 M493.25 454.00 Q495.05 455.10 495.95 457.70 Q496.85 455.10 498.65 454.00" fill="none" stroke="#222" stroke-width="0.9"/>
<path d="M502.55 451.00 V457.40 M499.85 454.00 Q501.65 455.10 502.55 457.70 Q503.45 455.10 505.25 454.00" fill="none" stroke="#222" stroke-width="0.9"/>
<rect x="428.7" y="459.32" width="90.30" height="10.12" fill="#bfbfbf"/>
<text x="450.79999999999995" y="467.18" font-size="7.7" text-anchor="middle" font-weight="normal" fill="#222" stroke="#222" stroke-width="0.12">30% - 59%</text>
<path d="M492.65 461.12 V467.52 M489.95 464.12 Q491.75 465.22 492.65 467.82 Q493.55 465.22 495.35 464.12" fill="none" stroke="#222" stroke-width="0.9"/>
<path d="M499.25 461.12 V467.52 M496.55 464.12 Q498.35 465.22 499.25 467.82 Q500.15 465.22 501.95 464.12" fill="none" stroke="#222" stroke-width="0.9"/>
<rect x="428.7" y="469.44" width="90.30" height="10.12" fill="#5c5c5c"/>
<text x="450.79999999999995" y="477.3" font-size="7.7" text-anchor="middle" font-weight="normal" fill="#222" stroke="#222" stroke-width="0.12">60% - 79%</text>
<path d="M495.95 471.24 V477.64 M493.25 474.24 Q495.05 475.34 495.95 477.94 Q496.85 475.34 498.65 474.24" fill="none" stroke="#222" stroke-width="0.9"/>
<rect x="428.7" y="479.56" width="90.30" height="10.12" fill="#808080"/>
<text x="450.79999999999995" y="487.42" font-size="7.7" text-anchor="middle" font-weight="normal" fill="#222" stroke="#222" stroke-width="0.12">80% - 99%</text>
<line x1="492.75" y1="485.12" x2="499.15" y2="485.12" stroke="#333" stroke-width="0.9"/>
<rect x="428.7" y="489.68" width="90.30" height="10.12" fill="#8a8a8a"/>
<text x="450.79999999999995" y="497.54" font-size="7.7" text-anchor="middle" font-weight="normal" fill="#222" stroke="#222" stroke-width="0.12">100%</text>
<text x="495.95" y="497.54" font-size="7.7" text-anchor="middle" font-weight="normal" fill="#222" stroke="#222" stroke-width="0.12">scrambled</text>
<path d="M428.7 449.20 H519.0 M428.7 459.32 H519.0 M428.7 469.44 H519.0 M428.7 479.56 H519.0 M428.7 489.68 H519.0 M428.7 499.80 H519.0 M428.7 449.2 V499.80 M472.9 449.2 V499.80 M519.0 449.2 V499.80" stroke="#222" stroke-width="0.9" fill="none"/>
</g>
</svg>
</body></html>
